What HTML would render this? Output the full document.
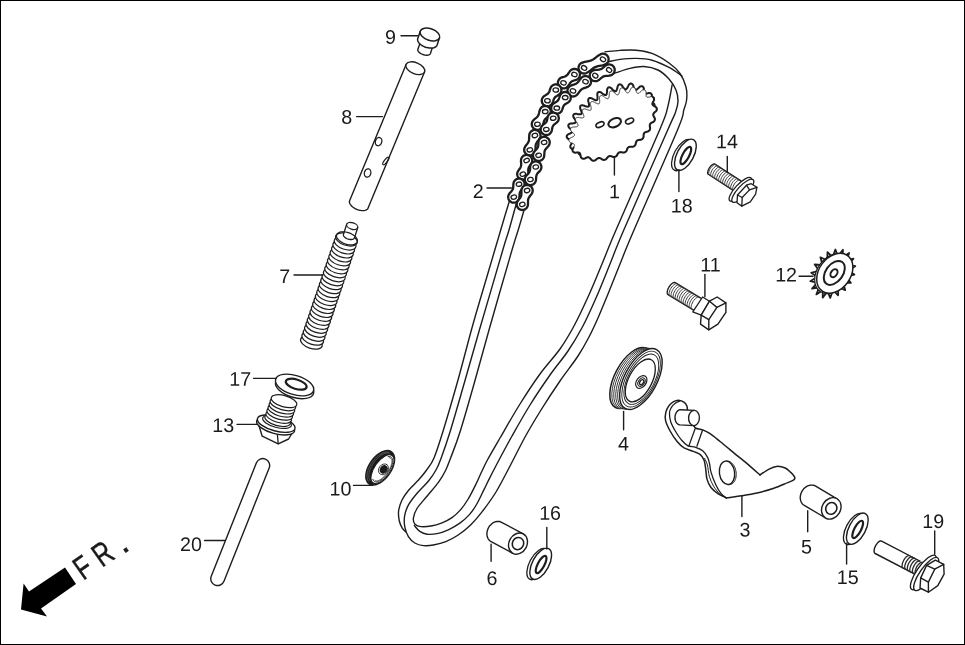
<!DOCTYPE html>
<html lang="en"><head><meta charset="utf-8"><title>Cam chain / tensioner parts diagram</title>
<style>
html,body{margin:0;padding:0;background:#fff}
svg{display:block;filter:grayscale(1)}
text{font-family:"Liberation Sans",sans-serif;fill:#1a1a1a;text-rendering:geometricPrecision}
path,line,ellipse,polyline{stroke-linecap:round;stroke-linejoin:round}
</style></head><body>
<svg width="965" height="645" viewBox="0 0 965 645">
<rect x="0.5" y="0.5" width="964" height="644" fill="#fff" stroke="#000" stroke-width="1"/>
<line x1="262.8" y1="465.4" x2="217.6" y2="578.7" stroke="#1d1d1d" stroke-width="15.1" stroke-linecap="round"/>
<line x1="262.8" y1="465.4" x2="217.6" y2="578.7" stroke="#fff" stroke-width="12.3" stroke-linecap="round"/>
<path d="M21 609.6 L23.6 583.6 L29 591.6 L65 567.4 L76 584 L41 608.6 L47 616.6Z" fill="#000" stroke="none" stroke-width="0" />
<text x="0" y="0" font-size="33" transform="translate(83.2 581.1) rotate(-35) scale(0.74 1)" fill="#111" stroke="#111" stroke-width="0.4">F</text>
<text x="0" y="0" font-size="33" transform="translate(102 568) rotate(-35) scale(0.74 1)" fill="#111" stroke="#111" stroke-width="0.4">R</text>
<text x="0" y="0" font-size="36" transform="translate(123 554.4) rotate(-35) scale(1.0 1)" fill="#111" stroke="#111" stroke-width="0.4">.</text>
<path d="M406.1 64.4 L349.7 200.4 L349.5 201.1 L349.4 201.8 L349.5 202.6 L349.8 203.5 L350.3 204.3 L350.9 205.1 L351.6 206 L352.4 206.8 L353.4 207.5 L354.4 208.2 L355.6 208.8 L356.8 209.4 L358 209.8 L359.2 210.2 L360.5 210.4 L361.7 210.6 L362.8 210.6 L363.9 210.6 L364.9 210.4 L365.8 210.1 L366.6 209.7 L367.3 209.2 L367.8 208.7 L368.1 208 L424.5 72" fill="#fff" stroke="#1d1d1d" stroke-width="1.4" />
<ellipse cx="415.3" cy="68.2" rx="10" ry="5.6" transform="rotate(-157.5 415.3 68.2)" fill="#fff" stroke="#1d1d1d" stroke-width="1.4"/>
<ellipse cx="378.6" cy="141.6" rx="3.2" ry="4.2" transform="rotate(15 378.6 141.6)" fill="none" stroke="#1d1d1d" stroke-width="1.3"/>
<ellipse cx="367.6" cy="173" rx="3.2" ry="4.2" transform="rotate(15 367.6 173)" fill="none" stroke="#1d1d1d" stroke-width="1.3"/>
<ellipse cx="385.8" cy="161" rx="4.6" ry="1.5" transform="rotate(-52 385.8 161)" fill="none" stroke="#1d1d1d" stroke-width="1.2"/>
<path d="M421.1 39.9 L417.9 49.2 L417.8 49.6 L417.8 50.1 L417.9 50.6 L418.2 51.1 L418.5 51.6 L418.9 52.1 L419.5 52.6 L420.1 53.1 L420.7 53.5 L421.4 53.9 L422.2 54.2 L423 54.6 L423.8 54.8 L424.7 55 L425.5 55.1 L426.3 55.2 L427.1 55.2 L427.8 55.1 L428.4 55 L429 54.8 L429.5 54.5 L429.9 54.2 L430.2 53.9 L430.4 53.5 L433.5 44.2" fill="#fff" stroke="#1d1d1d" stroke-width="1.4" />
<path d="M420.3 31.2 L417.8 38.4 L417.6 39.1 L417.6 39.9 L417.8 40.7 L418.1 41.6 L418.6 42.4 L419.3 43.2 L420.1 44 L421 44.8 L422 45.5 L423.1 46.1 L424.3 46.7 L425.6 47.2 L426.8 47.6 L428.1 47.8 L429.4 48 L430.6 48.1 L431.8 48.1 L432.9 47.9 L433.9 47.7 L434.9 47.3 L435.6 46.8 L436.3 46.3 L436.8 45.7 L437.1 45 L439.5 37.8" fill="#fff" stroke="#1d1d1d" stroke-width="1.5" />
<ellipse cx="429.9" cy="34.5" rx="10.2" ry="5.8" transform="rotate(-161.1 429.9 34.5)" fill="#fff" stroke="#1d1d1d" stroke-width="1.5"/>
<ellipse cx="311.4" cy="342.6" rx="11.3" ry="5.8" transform="rotate(-161.2 311.4 342.6)" fill="#fff" stroke="#1d1d1d" stroke-width="1.2"/>
<ellipse cx="312.7" cy="338.6" rx="11.3" ry="5.8" transform="rotate(-161.2 312.7 338.6)" fill="#fff" stroke="#1d1d1d" stroke-width="1.2"/>
<ellipse cx="314.1" cy="334.7" rx="11.3" ry="5.8" transform="rotate(-161.2 314.1 334.7)" fill="#fff" stroke="#1d1d1d" stroke-width="1.2"/>
<ellipse cx="315.4" cy="330.7" rx="11.3" ry="5.8" transform="rotate(-161.2 315.4 330.7)" fill="#fff" stroke="#1d1d1d" stroke-width="1.2"/>
<ellipse cx="316.8" cy="326.7" rx="11.3" ry="5.8" transform="rotate(-161.2 316.8 326.7)" fill="#fff" stroke="#1d1d1d" stroke-width="1.2"/>
<ellipse cx="318.1" cy="322.8" rx="11.3" ry="5.8" transform="rotate(-161.2 318.1 322.8)" fill="#fff" stroke="#1d1d1d" stroke-width="1.2"/>
<ellipse cx="319.5" cy="318.8" rx="11.3" ry="5.8" transform="rotate(-161.2 319.5 318.8)" fill="#fff" stroke="#1d1d1d" stroke-width="1.2"/>
<ellipse cx="320.8" cy="314.8" rx="11.3" ry="5.8" transform="rotate(-161.2 320.8 314.8)" fill="#fff" stroke="#1d1d1d" stroke-width="1.2"/>
<ellipse cx="322.2" cy="310.9" rx="11.3" ry="5.8" transform="rotate(-161.2 322.2 310.9)" fill="#fff" stroke="#1d1d1d" stroke-width="1.2"/>
<ellipse cx="323.5" cy="306.9" rx="11.3" ry="5.8" transform="rotate(-161.2 323.5 306.9)" fill="#fff" stroke="#1d1d1d" stroke-width="1.2"/>
<ellipse cx="324.9" cy="302.9" rx="11.3" ry="5.8" transform="rotate(-161.2 324.9 302.9)" fill="#fff" stroke="#1d1d1d" stroke-width="1.2"/>
<ellipse cx="326.2" cy="299" rx="11.3" ry="5.8" transform="rotate(-161.2 326.2 299)" fill="#fff" stroke="#1d1d1d" stroke-width="1.2"/>
<ellipse cx="327.6" cy="295" rx="11.3" ry="5.8" transform="rotate(-161.2 327.6 295)" fill="#fff" stroke="#1d1d1d" stroke-width="1.2"/>
<ellipse cx="328.9" cy="291.1" rx="11.3" ry="5.8" transform="rotate(-161.2 328.9 291.1)" fill="#fff" stroke="#1d1d1d" stroke-width="1.2"/>
<ellipse cx="330.2" cy="287.1" rx="11.3" ry="5.8" transform="rotate(-161.2 330.2 287.1)" fill="#fff" stroke="#1d1d1d" stroke-width="1.2"/>
<ellipse cx="331.6" cy="283.1" rx="11.3" ry="5.8" transform="rotate(-161.2 331.6 283.1)" fill="#fff" stroke="#1d1d1d" stroke-width="1.2"/>
<ellipse cx="332.9" cy="279.2" rx="11.3" ry="5.8" transform="rotate(-161.2 332.9 279.2)" fill="#fff" stroke="#1d1d1d" stroke-width="1.2"/>
<ellipse cx="334.3" cy="275.2" rx="11.3" ry="5.8" transform="rotate(-161.2 334.3 275.2)" fill="#fff" stroke="#1d1d1d" stroke-width="1.2"/>
<ellipse cx="335.6" cy="271.2" rx="11.3" ry="5.8" transform="rotate(-161.2 335.6 271.2)" fill="#fff" stroke="#1d1d1d" stroke-width="1.2"/>
<ellipse cx="337" cy="267.3" rx="11.3" ry="5.8" transform="rotate(-161.2 337 267.3)" fill="#fff" stroke="#1d1d1d" stroke-width="1.2"/>
<ellipse cx="338.3" cy="263.3" rx="11.3" ry="5.8" transform="rotate(-161.2 338.3 263.3)" fill="#fff" stroke="#1d1d1d" stroke-width="1.2"/>
<ellipse cx="339.7" cy="259.3" rx="11.3" ry="5.8" transform="rotate(-161.2 339.7 259.3)" fill="#fff" stroke="#1d1d1d" stroke-width="1.2"/>
<ellipse cx="341" cy="255.4" rx="11.3" ry="5.8" transform="rotate(-161.2 341 255.4)" fill="#fff" stroke="#1d1d1d" stroke-width="1.2"/>
<ellipse cx="342.4" cy="251.4" rx="11.3" ry="5.8" transform="rotate(-161.2 342.4 251.4)" fill="#fff" stroke="#1d1d1d" stroke-width="1.2"/>
<ellipse cx="343.7" cy="247.4" rx="11.3" ry="5.8" transform="rotate(-161.2 343.7 247.4)" fill="#fff" stroke="#1d1d1d" stroke-width="1.2"/>
<ellipse cx="345.1" cy="243.5" rx="11.3" ry="5.8" transform="rotate(-161.2 345.1 243.5)" fill="#fff" stroke="#1d1d1d" stroke-width="1.2"/>
<ellipse cx="346.4" cy="239.5" rx="11.3" ry="5.8" transform="rotate(-161.2 346.4 239.5)" fill="#fff" stroke="#1d1d1d" stroke-width="1.2"/>
<path d="M346.7 224.2 L343.5 234.2 L343.4 234.6 L343.4 235.1 L343.5 235.5 L343.7 236 L344 236.5 L344.4 236.9 L344.9 237.3 L345.4 237.8 L346 238.1 L346.6 238.5 L347.3 238.8 L348 239 L348.8 239.3 L349.5 239.4 L350.2 239.5 L350.9 239.5 L351.6 239.5 L352.2 239.4 L352.8 239.3 L353.3 239.1 L353.7 238.8 L354.1 238.5 L354.3 238.2 L354.5 237.8 L357.7 227.8" fill="#fff" stroke="#1d1d1d" stroke-width="1.3" />
<ellipse cx="352.2" cy="226" rx="5.8" ry="3.2" transform="rotate(-162.3 352.2 226)" fill="#fff" stroke="#1d1d1d" stroke-width="1.3"/>
<path d="M336.7 234.8 L337.1 234 L337.8 233.3 L338.6 232.7 L339.7 232.2 L341 231.9 L342.4 231.8 L344 231.8 L345.6 232 L347.2 232.3 L348.9 232.8 L350.5 233.4 L352 234.2 L353.3 235 L354.6 235.9 L355.6 236.9 L356.4 237.9 L357 238.9 L357.4 239.9 L357.5 240.9 L357.3 241.8 L356.9 242.6 L356.2 243.3 L355.4 243.9 L354.3 244.4 L353 244.7 L351.6 244.8 L350 244.8 L348.4 244.6 L346.8 244.3 L345.1 243.8 L343.5 243.2 L342 242.4 L340.7 241.6 L339.4 240.7 L338.4 239.7 L337.6 238.7 L337 237.7 L336.6 236.7 L336.5 235.7 L336.7 234.8" fill="none" stroke="#1d1d1d" stroke-width="1.2" />
<path d="M258.5 424 L262.2 436.2 L278.2 443.8 L288.6 439 L294 430" fill="#fff" stroke="#1d1d1d" stroke-width="1.4" />
<line x1="278.2" y1="443.8" x2="277" y2="430" stroke="#1d1d1d" stroke-width="1.3"/>
<ellipse cx="275.6" cy="426" rx="19.6" ry="7.6" transform="rotate(15 275.6 426)" fill="#fff" stroke="#1d1d1d" stroke-width="1.4"/>
<ellipse cx="276.2" cy="423.6" rx="19.4" ry="7.4" transform="rotate(15 276.2 423.6)" fill="#fff" stroke="#1d1d1d" stroke-width="1.4"/>
<ellipse cx="277" cy="421.8" rx="14.8" ry="5.6" transform="rotate(15 277 421.8)" fill="#fff" stroke="#1d1d1d" stroke-width="1.2"/>
<ellipse cx="277.6" cy="420" rx="13.2" ry="5.6" transform="rotate(16 277.6 420)" fill="#fff" stroke="#1d1d1d" stroke-width="1.2"/>
<ellipse cx="278.7" cy="416.9" rx="13.2" ry="5.6" transform="rotate(16 278.7 416.9)" fill="#fff" stroke="#1d1d1d" stroke-width="1.2"/>
<ellipse cx="279.7" cy="413.7" rx="13.2" ry="5.6" transform="rotate(16 279.7 413.7)" fill="#fff" stroke="#1d1d1d" stroke-width="1.2"/>
<ellipse cx="280.8" cy="410.6" rx="13.2" ry="5.6" transform="rotate(16 280.8 410.6)" fill="#fff" stroke="#1d1d1d" stroke-width="1.2"/>
<ellipse cx="281.9" cy="407.5" rx="13.2" ry="5.6" transform="rotate(16 281.9 407.5)" fill="#fff" stroke="#1d1d1d" stroke-width="1.2"/>
<ellipse cx="282.9" cy="404.3" rx="13.2" ry="5.6" transform="rotate(16 282.9 404.3)" fill="#fff" stroke="#1d1d1d" stroke-width="1.2"/>
<ellipse cx="284" cy="401.2" rx="13.2" ry="5.6" transform="rotate(16 284 401.2)" fill="#fff" stroke="#1d1d1d" stroke-width="1.2"/>
<ellipse cx="294.6" cy="387.8" rx="19.8" ry="9.6" transform="rotate(17 294.6 387.8)" fill="#fff" stroke="#1d1d1d" stroke-width="1.4"/>
<ellipse cx="294.6" cy="385" rx="19.8" ry="9.6" transform="rotate(17 294.6 385)" fill="#fff" stroke="#1d1d1d" stroke-width="1.4"/>
<ellipse cx="296.2" cy="384.2" rx="10.8" ry="4.7" transform="rotate(17 296.2 384.2)" fill="#fff" stroke="#1d1d1d" stroke-width="2.2"/>
<ellipse cx="380.2" cy="467.8" rx="19.6" ry="11" transform="rotate(-55 380.2 467.8)" fill="#1a1a1a" stroke="#1d1d1d" stroke-width="1.4"/>
<path d="M368.5 481.4 L368 480.6 L367.6 479.7 L367.3 478.6 L367.1 477.5 L367 476.3 L367.1 475.1 L367.2 473.7 L367.5 472.4 L367.9 470.9 L368.3 469.5 L368.9 468 L369.6 466.6 L370.4 465.1 L371.2 463.7 L372.1 462.3 L373.1 460.9 L374.2 459.7 L375.3 458.4 L376.4 457.3 L377.6 456.3 L378.8 455.3 L380 454.5 L381.2 453.8 L382.4 453.2 L383.6 452.7 L384.7 452.3 L385.8 452.1 L386.9 452.1 L387.9 452.1 L388.8 452.3" fill="none" stroke="#888" stroke-width="0.5" />
<path d="M370.1 480.6 L369.7 479.9 L369.3 479 L369 478.1 L368.9 477 L368.8 475.9 L368.9 474.7 L369 473.5 L369.3 472.2 L369.7 470.9 L370.1 469.5 L370.7 468.1 L371.3 466.7 L372 465.4 L372.8 464 L373.7 462.7 L374.6 461.4 L375.6 460.2 L376.7 459.1 L377.8 458 L378.9 457 L380 456.1 L381.1 455.3 L382.2 454.6 L383.4 454 L384.5 453.6 L385.5 453.3 L386.6 453 L387.6 453 L388.5 453 L389.3 453.2" fill="none" stroke="#888" stroke-width="0.5" />
<ellipse cx="382.5" cy="469.1" rx="16.6" ry="7.9" transform="rotate(-55 382.5 469.1)" fill="#fff" stroke="#1d1d1d" stroke-width="1"/>
<path d="M388.1 456.6 L389.2 456.5 L390.1 456.6 L390.9 456.9 L391.6 457.4 L392.1 458.2 L392.5 459.1 L392.7 460.2 L392.7 461.4 L392.6 462.8 L392.2 464.3 L391.8 465.8 L391.1 467.5 L390.3 469.1 L389.4 470.8 L388.4 472.4 L387.3 474 L386.1 475.5 L384.8 476.8 L383.5 478.1 L382.2 479.2 L380.9 480.1 L379.6 480.9 L378.4 481.4 L377.3 481.8 L376.2 481.9 L375.3 481.8 L374.5 481.5 L373.8 481 L373.3 480.2 L372.9 479.3" fill="none" stroke="#1d1d1d" stroke-width="0.9" />
<path d="M389.3 457.7 L389.9 457.8 L390.5 458.1 L391 458.4 L391.4 459 L391.7 459.6 L391.9 460.4 L391.9 461.3 L391.8 462.3 L391.7 463.4 L391.4 464.6 L391 465.8 L390.5 467.1 L389.9 468.4 L389.2 469.7 L388.4 471 L387.5 472.3 L386.6 473.5 L385.7 474.7 L384.7 475.8 L383.7 476.9 L382.7 477.8 L381.6 478.6 L380.6 479.4 L379.7 479.9 L378.7 480.4 L377.9 480.7 L377.1 480.9 L376.3 480.9 L375.7 480.7 L375.1 480.4" fill="none" stroke="#1d1d1d" stroke-width="0.7" />
<ellipse cx="383.5" cy="469.3" rx="5.8" ry="4.6" transform="rotate(-55 383.5 469.3)" fill="#fff" stroke="#1d1d1d" stroke-width="0.8"/>
<ellipse cx="383.7" cy="469.4" rx="4" ry="3.3" transform="rotate(-55 383.7 469.4)" fill="#1a1a1a" stroke="#1d1d1d" stroke-width="1"/>
<path d="M509.4 201 C507.9 205.8 503.1 221.8 500.7 230 C498.3 238.2 498.1 239 494.8 250 C491.6 261 485.1 282.7 481.2 296 C477.3 309.3 475.3 316 471.4 330 C467.5 344 462.7 363.3 458 380 C453.3 396.7 447.4 417 443.4 430 C439.4 443 436.8 451.3 434 458 C431.2 464.7 429.2 466.3 426.6 470 C424 473.7 421.5 476.7 418.5 480 C415.5 483.3 411.6 486.7 408.8 490 C406.1 493.3 403.7 496.5 402 500 C400.3 503.5 399.1 507.5 398.6 511 C398.2 514.5 398.7 518.1 399.3 521 C399.9 523.9 401.3 526.5 402.4 528.3 C403.5 530.1 405.4 531.4 406 532" fill="none" stroke="#1d1d1d" stroke-width="1.4" />
<path d="M605 51.8 C607.5 51.6 614.8 50.7 620 50.4 C625.2 50.1 630.7 49.7 636 50.2 C641.3 50.7 646.5 51.3 652 53.4 C657.5 55.5 664.3 59.6 669 63 C673.7 66.3 677.2 69.5 680 73.5 C682.8 77.5 684.9 82.6 686 87 C687.1 91.4 687 96.2 686.6 100 C686.2 103.8 685.3 105 683.8 110 C682.3 115 685.8 110 677.5 130 C669.2 150 643.6 207.7 634 230 C624.4 252.3 624.3 253.3 620 264 C615.7 274.7 611.7 285 608 294 C604.3 303 601.2 310.8 598 318 C594.8 325.2 592.3 330.7 589 337 C585.7 343.3 582.8 348.7 578 356 C573.2 363.3 566.2 372 560 381 C553.8 390 546.9 400.5 541 410 C535.1 419.5 529.8 428.3 524.5 438 C519.2 447.7 513.8 459 509 468 C504.2 477 500.5 484.6 496 492 C491.5 499.4 486 506.7 481.8 512.2 C477.6 517.7 474.5 521.2 470.6 525 C466.7 528.8 462.3 532.2 458.2 535 C454.1 537.8 449.9 539.9 445.8 541.6 C441.7 543.3 437.1 544.3 433.4 545 C429.7 545.7 426.6 545.9 423.5 545.6 C420.4 545.3 417.3 544.5 414.8 543 C412.3 541.5 410.1 539.3 408.4 536.6 C406.7 533.9 405.4 530.2 404.8 526.8 C404.2 523.4 404 519.7 404.6 516 C405.2 512.3 406.5 508.5 408.6 504.7 C410.7 500.9 414 496.9 417.3 493 C420.6 489.1 425.4 484.8 428.5 481 C431.6 477.2 433.9 473.8 436 470 C438.1 466.2 438.9 464.3 441.2 458 C443.5 451.7 446.2 444.3 450 432 C453.8 419.7 459.1 401 464 384 C468.9 367 472.9 352.3 479.4 330 C485.9 307.7 497.9 266.7 502.8 250 C507.7 233.3 506.8 237.7 509 230 C511.2 222.3 515 208.3 516.2 204" fill="none" stroke="#1d1d1d" stroke-width="1.4" />
<path d="M614 73.4 C616.7 72.6 625 69.6 630 68.4 C635 67.2 639.3 66.2 644 66.5 C648.7 66.8 653.8 67.9 658 70 C662.2 72.1 666 75.7 669 79 C672 82.3 674.5 86.2 676 90 C677.5 93.8 678.1 97.8 678 101.5 C677.9 105.2 677.3 107.2 675.6 112 C673.9 116.8 676.3 110.3 667.7 130 C659.1 149.7 633.4 207.7 623.8 230 C614.2 252.3 614.6 252.7 610 264 C605.4 275.3 600.6 287.5 596 298 C591.4 308.5 587.1 318.2 582.4 327 C577.7 335.8 573.4 343 568 351 C562.6 359 556.3 366 550 375 C543.7 384 536.3 394.8 530 405 C523.7 415.2 517.2 426.8 512 436 C506.8 445.2 502.7 453.1 499 460 C495.3 466.9 492.5 472.5 490 477.4 C487.5 482.3 486.2 485.2 484 489.6 C481.8 494 479.2 499.8 476.8 504 C474.4 508.2 472.3 511.4 469.4 514.6 C466.5 517.8 463 520.9 459.5 523.4 C456 525.9 452.1 528.1 448.3 529.8 C444.6 531.5 440.5 532.9 437 533.6 C433.5 534.3 430.1 534.6 427.2 534.2 C424.3 533.8 421.9 532.8 419.8 531.4 C417.7 530 415.3 526.6 414.4 525.6" fill="none" stroke="#1d1d1d" stroke-width="1.4" />
<path d="M672.2 84.7 C671.4 88.6 669.6 100.5 667.5 108 C665.4 115.5 668.2 109.7 659.6 130 C651 150.3 625.6 207.7 616 230 C606.4 252.3 606.7 252.8 602 264 C597.3 275.2 592.7 286.7 588 297 C583.3 307.3 578.7 317.3 574 326 C569.3 334.7 565.7 341 560 349 C554.3 357 546.7 364.8 540 374 C533.3 383.2 526.7 393.3 520 404 C513.3 414.7 505.4 428.7 500 438 C494.6 447.3 490.4 454.5 487.4 460 C484.4 465.5 484 466.9 482 471 C480 475.1 477.9 480.2 475.6 484.9 C473.3 489.6 470.7 494.9 468.2 499 C465.7 503.1 463.4 506.5 460.7 509.6 C458 512.7 455.1 515.4 452 517.6 C448.9 519.8 445.5 521.4 442 522.8 C438.5 524.2 434.5 525.4 431 526 C427.5 526.6 423.7 526.9 421 526.6 C418.3 526.3 416.3 525.6 415 524.2 C413.7 522.8 413.1 520.6 413.4 518 C413.7 515.4 414.7 512.2 417 508.5 C419.3 504.8 423.6 500.4 427.2 496 C430.8 491.6 435.3 486.7 438.4 482.4 C441.5 478.1 443.8 474.1 445.8 470 C447.8 465.9 448.2 464.3 450.6 458 C453 451.7 456.1 444.3 460 432 C463.9 419.7 469.2 401 474 384 C478.8 367 482.7 352.3 489 330 C495.3 307.7 507.1 266.7 512 250 C516.9 233.3 516.2 236.6 518.2 230 C520.2 223.4 523 213.8 523.9 210.5" fill="none" stroke="#1d1d1d" stroke-width="1.4" />
<path d="M609 61.6 C610.8 61.2 615.5 59.9 620 59.4 C624.5 58.9 630.7 58.3 636 58.4 C641.3 58.5 646.5 58.7 652 60.2 C657.5 61.7 664 64.8 669 67.4 C674 70 679.8 74.6 682 76" fill="none" stroke="#1d1d1d" stroke-width="1.4" />
<path d="M608.1 57 L607.7 56.2 L607.1 55.5 L606.5 54.9 L605.8 54.4 L605 54.1 L604.1 53.8 L603.2 53.7 L602.4 53.7 L601.5 53.9 L600.7 54.2 L599.4 54.9 L598.1 55.7 L596.9 56.6 L595.7 57.6 L594.5 58.5 L593.2 59.4 L591.9 60.1 L590.5 60.6 L589.1 61 L587.6 61.3 L586.1 61.6 L584.6 61.9 L583.2 62.3 L581.8 62.8 L581 63.2 L580.3 63.8 L579.7 64.4 L579.2 65.1 L578.9 65.9 L578.6 66.8 L578.5 67.7 L578.5 68.5 L578.7 69.4 L579 70.2 L579.4 71 L580 71.7 L580.6 72.3 L581.3 72.8 L582.1 73.1 L583 73.4 L583.9 73.5 L584.7 73.5 L585.6 73.3 L586.4 73 L587.7 72.3 L589 71.5 L590.2 70.6 L591.4 69.6 L592.6 68.7 L593.9 67.8 L595.2 67.1 L596.6 66.6 L598 66.2 L599.5 65.9 L601 65.6 L602.5 65.3 L603.9 64.9 L605.3 64.4 L606.1 64 L606.8 63.4 L607.4 62.8 L607.9 62.1 L608.2 61.3 L608.5 60.4 L608.6 59.5 L608.6 58.7 L608.4 57.8Z" fill="#fff" stroke="#1d1d1d" stroke-width="2.3" />
<ellipse cx="603" cy="59.3" rx="2.8" ry="2.1" transform="rotate(210.5 603 59.3)" fill="#fff" stroke="#1d1d1d" stroke-width="1.3"/>
<ellipse cx="584.1" cy="67.9" rx="2.8" ry="2.1" transform="rotate(210.5 584.1 67.9)" fill="#fff" stroke="#1d1d1d" stroke-width="1.3"/>
<path d="M578.9 71.1 L578.3 70.5 L577.6 69.9 L576.8 69.5 L576 69.1 L575.2 69 L574.3 68.9 L573.4 69 L572.6 69.2 L571.7 69.6 L571 70 L570.3 70.7 L569.6 71.5 L569.1 72.3 L568.5 73.2 L568 74.1 L567.3 74.9 L566.6 75.5 L565.8 76.1 L564.8 76.5 L563.9 76.8 L562.8 77.1 L561.9 77.4 L560.9 77.8 L560.1 78.3 L559.5 78.9 L558.9 79.6 L558.5 80.4 L558.1 81.2 L558 82 L557.9 82.9 L558 83.8 L558.2 84.6 L558.6 85.5 L559 86.2 L559.6 86.8 L560.3 87.4 L561.1 87.8 L561.9 88.2 L562.7 88.3 L563.6 88.4 L564.5 88.3 L565.3 88.1 L566.2 87.7 L566.9 87.3 L567.6 86.6 L568.3 85.8 L568.8 85 L569.4 84.1 L569.9 83.2 L570.6 82.4 L571.3 81.8 L572.1 81.2 L573.1 80.8 L574 80.5 L575.1 80.2 L576 79.9 L577 79.5 L577.8 79 L578.4 78.4 L579 77.7 L579.4 76.9 L579.8 76.1 L579.9 75.3 L580 74.4 L579.9 73.5 L579.7 72.7 L579.3 71.8Z" fill="#fff" stroke="#1d1d1d" stroke-width="2.3" />
<ellipse cx="574.4" cy="74.5" rx="2.8" ry="2.1" transform="rotate(197.7 574.4 74.5)" fill="#fff" stroke="#1d1d1d" stroke-width="1.3"/>
<ellipse cx="563.5" cy="82.8" rx="2.8" ry="2.1" transform="rotate(197.7 563.5 82.8)" fill="#fff" stroke="#1d1d1d" stroke-width="1.3"/>
<path d="M559.3 85.6 L558.5 85.1 L557.7 84.7 L556.9 84.5 L556 84.4 L555.1 84.4 L554.3 84.6 L553.4 84.9 L552.7 85.4 L552 85.9 L551.4 86.5 L550.9 87.4 L550.4 88.3 L550.1 89.2 L549.8 90.2 L549.5 91.2 L549.1 92.1 L548.5 92.9 L547.9 93.7 L547.1 94.3 L546.2 94.8 L545.3 95.4 L544.4 95.9 L543.7 96.5 L543 97.2 L542.5 98 L542.1 98.8 L541.9 99.6 L541.8 100.5 L541.8 101.4 L542 102.2 L542.3 103.1 L542.8 103.8 L543.3 104.5 L543.9 105.1 L544.7 105.6 L545.5 106 L546.3 106.2 L547.2 106.3 L548.1 106.3 L548.9 106.1 L549.8 105.8 L550.5 105.3 L551.2 104.8 L551.8 104.2 L552.3 103.3 L552.8 102.4 L553.1 101.5 L553.4 100.5 L553.7 99.5 L554.1 98.6 L554.7 97.8 L555.3 97 L556.1 96.4 L557 95.9 L557.9 95.3 L558.8 94.8 L559.5 94.2 L560.2 93.5 L560.7 92.7 L561.1 91.9 L561.3 91.1 L561.4 90.2 L561.4 89.3 L561.2 88.5 L560.9 87.6 L560.4 86.9 L559.9 86.2Z" fill="#fff" stroke="#1d1d1d" stroke-width="2.3" />
<ellipse cx="555.8" cy="90" rx="2.8" ry="2.1" transform="rotate(183.1 555.8 90)" fill="#fff" stroke="#1d1d1d" stroke-width="1.3"/>
<ellipse cx="547.4" cy="100.7" rx="2.8" ry="2.1" transform="rotate(183.1 547.4 100.7)" fill="#fff" stroke="#1d1d1d" stroke-width="1.3"/>
<path d="M548.1 106.8 L547.4 106.4 L546.5 106.2 L545.7 106 L544.8 106 L543.9 106.1 L543.1 106.4 L542.3 106.8 L541.6 107.3 L541 107.9 L540.4 108.7 L540 109.6 L539.6 110.6 L539.3 111.7 L539.1 112.8 L538.8 113.9 L538.5 114.9 L538 115.8 L537.4 116.7 L536.6 117.5 L535.8 118.2 L534.9 118.9 L534 119.6 L533.3 120.4 L532.6 121.3 L532.2 122 L532 122.9 L531.8 123.7 L531.8 124.6 L531.9 125.5 L532.2 126.3 L532.6 127.1 L533.1 127.8 L533.7 128.4 L534.5 129 L535.2 129.4 L536.1 129.6 L536.9 129.8 L537.8 129.8 L538.7 129.7 L539.5 129.4 L540.3 129 L541 128.5 L541.6 127.9 L542.2 127.1 L542.6 126.2 L543 125.2 L543.3 124.1 L543.5 123 L543.8 121.9 L544.1 120.9 L544.6 120 L545.2 119.1 L546 118.3 L546.8 117.6 L547.7 116.9 L548.6 116.2 L549.3 115.4 L550 114.5 L550.4 113.8 L550.6 112.9 L550.8 112.1 L550.8 111.2 L550.7 110.3 L550.4 109.5 L550 108.7 L549.5 108 L548.9 107.4Z" fill="#fff" stroke="#1d1d1d" stroke-width="2.3" />
<ellipse cx="545.2" cy="111.6" rx="2.8" ry="2.1" transform="rotate(176.8 545.2 111.6)" fill="#fff" stroke="#1d1d1d" stroke-width="1.3"/>
<ellipse cx="537.4" cy="124.2" rx="2.8" ry="2.1" transform="rotate(176.8 537.4 124.2)" fill="#fff" stroke="#1d1d1d" stroke-width="1.3"/>
<path d="M536.8 130.2 L535.9 130 L535.1 129.9 L534.2 129.9 L533.3 130.1 L532.5 130.4 L531.7 130.9 L531.1 131.4 L530.5 132.1 L530 132.8 L529.6 133.6 L529.3 134.7 L529.2 135.8 L529.2 136.9 L529.1 138.1 L529.1 139.2 L529 140.3 L528.7 141.3 L528.2 142.3 L527.6 143.3 L527 144.2 L526.2 145.1 L525.6 146 L525 146.9 L524.5 147.9 L524.3 148.8 L524.2 149.6 L524.2 150.5 L524.4 151.4 L524.7 152.2 L525.2 153 L525.7 153.6 L526.4 154.2 L527.1 154.7 L527.9 155.1 L528.8 155.3 L529.6 155.4 L530.5 155.4 L531.4 155.2 L532.2 154.9 L533 154.4 L533.6 153.9 L534.2 153.2 L534.7 152.5 L535.1 151.7 L535.4 150.6 L535.5 149.5 L535.5 148.4 L535.6 147.2 L535.6 146.1 L535.7 145 L536 144 L536.5 143 L537.1 142 L537.7 141.1 L538.5 140.2 L539.1 139.3 L539.7 138.4 L540.2 137.4 L540.4 136.5 L540.5 135.7 L540.5 134.8 L540.3 133.9 L540 133.1 L539.5 132.3 L539 131.7 L538.3 131.1 L537.6 130.6Z" fill="#fff" stroke="#1d1d1d" stroke-width="2.3" />
<ellipse cx="534.9" cy="135.5" rx="2.8" ry="2.1" transform="rotate(164.6 534.9 135.5)" fill="#fff" stroke="#1d1d1d" stroke-width="1.3"/>
<ellipse cx="529.8" cy="149.8" rx="2.8" ry="2.1" transform="rotate(164.6 529.8 149.8)" fill="#fff" stroke="#1d1d1d" stroke-width="1.3"/>
<path d="M528.1 155.1 L527.2 154.9 L526.4 154.9 L525.5 155 L524.6 155.3 L523.9 155.6 L523.1 156.1 L522.5 156.7 L521.9 157.4 L521.5 158.2 L521.2 159 L521 160 L521 161 L521 162.1 L521.1 163.2 L521.2 164.2 L521.1 165.3 L520.9 166.3 L520.6 167.2 L520.1 168.1 L519.5 169 L518.9 169.9 L518.3 170.7 L517.8 171.6 L517.4 172.6 L517.2 173.5 L517.2 174.3 L517.3 175.2 L517.6 176.1 L517.9 176.8 L518.4 177.6 L519 178.2 L519.7 178.8 L520.5 179.2 L521.3 179.5 L522.2 179.7 L523 179.7 L523.9 179.6 L524.8 179.3 L525.5 179 L526.3 178.5 L526.9 177.9 L527.5 177.2 L527.9 176.4 L528.2 175.6 L528.4 174.6 L528.4 173.6 L528.4 172.5 L528.3 171.4 L528.2 170.4 L528.3 169.3 L528.5 168.3 L528.8 167.4 L529.3 166.5 L529.9 165.6 L530.5 164.7 L531.1 163.9 L531.6 163 L532 162 L532.2 161.1 L532.2 160.3 L532.1 159.4 L531.8 158.5 L531.5 157.8 L531 157 L530.4 156.4 L529.7 155.8 L528.9 155.4Z" fill="#fff" stroke="#1d1d1d" stroke-width="2.3" />
<ellipse cx="526.6" cy="160.5" rx="2.8" ry="2.1" transform="rotate(160.6 526.6 160.5)" fill="#fff" stroke="#1d1d1d" stroke-width="1.3"/>
<ellipse cx="522.8" cy="174.1" rx="2.8" ry="2.1" transform="rotate(160.6 522.8 174.1)" fill="#fff" stroke="#1d1d1d" stroke-width="1.3"/>
<path d="M521.1 179 L520.3 178.7 L519.4 178.6 L518.5 178.6 L517.6 178.8 L516.8 179 L516 179.5 L515.3 180 L514.7 180.6 L514.2 181.3 L513.8 182.1 L513.5 183.1 L513.4 184.1 L513.3 185.1 L513.3 186.2 L513.2 187.2 L513.1 188.2 L512.8 189.2 L512.3 190.1 L511.7 190.9 L511.1 191.7 L510.3 192.5 L509.6 193.3 L509.1 194.1 L508.6 195 L508.3 195.8 L508.2 196.7 L508.2 197.6 L508.4 198.5 L508.6 199.3 L509.1 200.1 L509.6 200.8 L510.2 201.4 L510.9 201.9 L511.7 202.3 L512.5 202.6 L513.4 202.7 L514.3 202.7 L515.2 202.5 L516 202.3 L516.8 201.8 L517.5 201.3 L518.1 200.7 L518.6 200 L519 199.2 L519.3 198.2 L519.4 197.2 L519.5 196.2 L519.5 195.1 L519.6 194.1 L519.7 193.1 L520 192.1 L520.5 191.2 L521.1 190.4 L521.7 189.6 L522.5 188.8 L523.2 188 L523.7 187.2 L524.2 186.3 L524.5 185.5 L524.6 184.6 L524.6 183.7 L524.4 182.8 L524.2 182 L523.7 181.2 L523.2 180.5 L522.6 179.9 L521.9 179.4Z" fill="#fff" stroke="#1d1d1d" stroke-width="2.3" />
<ellipse cx="519" cy="184.2" rx="2.8" ry="2.1" transform="rotate(167 519 184.2)" fill="#fff" stroke="#1d1d1d" stroke-width="1.3"/>
<ellipse cx="513.8" cy="197.1" rx="2.8" ry="2.1" transform="rotate(167 513.8 197.1)" fill="#fff" stroke="#1d1d1d" stroke-width="1.3"/>
<path d="M614.3 67.9 L613.9 67.1 L613.4 66.4 L612.8 65.8 L612.1 65.2 L611.3 64.8 L610.4 64.6 L609.6 64.4 L608.7 64.4 L607.8 64.5 L607 64.8 L606 65.3 L605.1 65.9 L604.3 66.6 L603.4 67.4 L602.6 68.1 L601.7 68.7 L600.7 69.2 L599.7 69.5 L598.6 69.7 L597.5 69.8 L596.4 69.8 L595.3 69.9 L594.2 70.1 L593.2 70.4 L592.4 70.8 L591.7 71.3 L591.1 71.9 L590.5 72.6 L590.1 73.4 L589.9 74.3 L589.7 75.1 L589.7 76 L589.8 76.9 L590.1 77.7 L590.5 78.5 L591 79.2 L591.6 79.8 L592.3 80.4 L593.1 80.8 L594 81 L594.8 81.2 L595.7 81.2 L596.6 81.1 L597.4 80.8 L598.4 80.3 L599.3 79.7 L600.1 79 L601 78.2 L601.8 77.5 L602.7 76.9 L603.7 76.4 L604.7 76.1 L605.8 75.9 L606.9 75.8 L608 75.8 L609.1 75.7 L610.2 75.5 L611.2 75.2 L612 74.8 L612.7 74.3 L613.3 73.7 L613.9 73 L614.3 72.2 L614.5 71.3 L614.7 70.5 L614.7 69.6 L614.6 68.7Z" fill="#fff" stroke="#1d1d1d" stroke-width="2.3" />
<ellipse cx="609.1" cy="70" rx="2.8" ry="2.1" transform="rotate(212.9 609.1 70)" fill="#fff" stroke="#1d1d1d" stroke-width="1.3"/>
<ellipse cx="595.3" cy="75.6" rx="2.8" ry="2.1" transform="rotate(212.9 595.3 75.6)" fill="#fff" stroke="#1d1d1d" stroke-width="1.3"/>
<path d="M590 78.3 L589.4 77.6 L588.7 77 L588 76.6 L587.2 76.3 L586.3 76.1 L585.4 76 L584.6 76.1 L583.7 76.3 L582.9 76.6 L582.2 77.1 L581.3 77.8 L580.6 78.7 L579.9 79.6 L579.2 80.6 L578.5 81.5 L577.8 82.4 L576.9 83.1 L576 83.7 L574.9 84.2 L573.8 84.6 L572.7 84.9 L571.6 85.3 L570.6 85.8 L569.7 86.4 L569 87 L568.4 87.7 L568 88.4 L567.7 89.2 L567.5 90.1 L567.4 91 L567.5 91.8 L567.7 92.7 L568 93.5 L568.5 94.2 L569.1 94.9 L569.8 95.5 L570.5 95.9 L571.3 96.2 L572.2 96.4 L573.1 96.5 L573.9 96.4 L574.8 96.2 L575.6 95.9 L576.3 95.4 L577.2 94.7 L577.9 93.8 L578.6 92.9 L579.3 91.9 L580 91 L580.7 90.1 L581.6 89.4 L582.5 88.8 L583.6 88.3 L584.7 87.9 L585.8 87.6 L586.9 87.2 L587.9 86.7 L588.8 86.1 L589.5 85.5 L590.1 84.8 L590.5 84.1 L590.8 83.3 L591 82.4 L591.1 81.5 L591 80.7 L590.8 79.8 L590.5 79Z" fill="#fff" stroke="#1d1d1d" stroke-width="2.3" />
<ellipse cx="585.5" cy="81.6" rx="2.8" ry="2.1" transform="rotate(198.4 585.5 81.6)" fill="#fff" stroke="#1d1d1d" stroke-width="1.3"/>
<ellipse cx="573" cy="90.9" rx="2.8" ry="2.1" transform="rotate(198.4 573 90.9)" fill="#fff" stroke="#1d1d1d" stroke-width="1.3"/>
<path d="M568.7 93.2 L568 92.7 L567.2 92.4 L566.3 92.1 L565.5 92 L564.6 92 L563.7 92.2 L562.9 92.5 L562.1 92.9 L561.4 93.5 L560.8 94.1 L560.3 94.9 L559.9 95.8 L559.5 96.8 L559.2 97.8 L558.9 98.7 L558.5 99.6 L558 100.4 L557.3 101.1 L556.5 101.7 L555.6 102.3 L554.7 102.8 L553.9 103.3 L553.1 103.9 L552.4 104.6 L551.9 105.3 L551.6 106.1 L551.3 107 L551.2 107.8 L551.2 108.7 L551.4 109.6 L551.7 110.4 L552.1 111.2 L552.7 111.9 L553.3 112.5 L554 113 L554.8 113.3 L555.7 113.6 L556.5 113.7 L557.4 113.7 L558.3 113.5 L559.1 113.2 L559.9 112.8 L560.6 112.2 L561.2 111.6 L561.7 110.8 L562.1 109.9 L562.5 108.9 L562.8 107.9 L563.1 107 L563.5 106.1 L564 105.3 L564.7 104.6 L565.5 104 L566.4 103.4 L567.3 102.9 L568.1 102.4 L568.9 101.8 L569.6 101.1 L570.1 100.4 L570.4 99.6 L570.7 98.7 L570.8 97.9 L570.8 97 L570.6 96.1 L570.3 95.3 L569.9 94.5 L569.3 93.8Z" fill="#fff" stroke="#1d1d1d" stroke-width="2.3" />
<ellipse cx="565.2" cy="97.6" rx="2.8" ry="2.1" transform="rotate(183.7 565.2 97.6)" fill="#fff" stroke="#1d1d1d" stroke-width="1.3"/>
<ellipse cx="556.8" cy="108.1" rx="2.8" ry="2.1" transform="rotate(183.7 556.8 108.1)" fill="#fff" stroke="#1d1d1d" stroke-width="1.3"/>
<path d="M556.1 113.4 L555.4 113 L554.5 112.8 L553.7 112.6 L552.8 112.6 L551.9 112.8 L551.1 113 L550.3 113.4 L549.6 113.9 L549 114.6 L548.4 115.3 L548 116.1 L547.7 117 L547.5 118 L547.3 119 L547.1 120 L546.9 120.9 L546.4 121.8 L545.9 122.5 L545.2 123.2 L544.4 123.8 L543.6 124.4 L542.8 125 L542.1 125.7 L541.5 126.5 L541.1 127.2 L540.9 128.1 L540.7 128.9 L540.7 129.8 L540.9 130.7 L541.1 131.5 L541.5 132.3 L542 133 L542.7 133.6 L543.4 134.2 L544.1 134.6 L545 134.8 L545.8 135 L546.7 135 L547.6 134.8 L548.4 134.6 L549.2 134.2 L549.9 133.7 L550.5 133 L551.1 132.3 L551.5 131.5 L551.8 130.6 L552 129.6 L552.2 128.6 L552.4 127.6 L552.6 126.7 L553.1 125.8 L553.6 125.1 L554.3 124.4 L555.1 123.8 L555.9 123.2 L556.7 122.6 L557.4 121.9 L558 121.1 L558.4 120.4 L558.6 119.5 L558.8 118.7 L558.8 117.8 L558.6 116.9 L558.4 116.1 L558 115.3 L557.5 114.6 L556.8 114Z" fill="#fff" stroke="#1d1d1d" stroke-width="2.3" />
<ellipse cx="553.2" cy="118.2" rx="2.8" ry="2.1" transform="rotate(176.6 553.2 118.2)" fill="#fff" stroke="#1d1d1d" stroke-width="1.3"/>
<ellipse cx="546.3" cy="129.4" rx="2.8" ry="2.1" transform="rotate(176.6 546.3 129.4)" fill="#fff" stroke="#1d1d1d" stroke-width="1.3"/>
<path d="M546.3 137.2 L545.5 137 L544.6 136.8 L543.7 136.8 L542.8 136.9 L542 137.2 L541.2 137.6 L540.5 138.1 L539.9 138.7 L539.4 139.4 L538.9 140.2 L538.6 141.2 L538.5 142.2 L538.4 143.2 L538.3 144.3 L538.3 145.4 L538.1 146.4 L537.8 147.3 L537.3 148.2 L536.7 149 L536 149.8 L535.2 150.6 L534.5 151.4 L533.9 152.2 L533.4 153.1 L533.2 153.9 L533 154.8 L533 155.7 L533.1 156.6 L533.4 157.4 L533.8 158.2 L534.3 158.9 L534.9 159.5 L535.6 160 L536.4 160.5 L537.2 160.7 L538.1 160.9 L539 160.9 L539.9 160.8 L540.7 160.5 L541.5 160.1 L542.2 159.6 L542.8 159 L543.3 158.3 L543.8 157.5 L544.1 156.5 L544.2 155.5 L544.3 154.5 L544.4 153.4 L544.4 152.3 L544.6 151.3 L544.9 150.4 L545.4 149.5 L546 148.7 L546.7 147.9 L547.5 147.1 L548.2 146.3 L548.8 145.5 L549.3 144.6 L549.5 143.8 L549.7 142.9 L549.7 142 L549.6 141.1 L549.3 140.3 L548.9 139.5 L548.4 138.8 L547.8 138.2 L547.1 137.7Z" fill="#fff" stroke="#1d1d1d" stroke-width="2.3" />
<ellipse cx="544.1" cy="142.4" rx="2.8" ry="2.1" transform="rotate(168.1 544.1 142.4)" fill="#fff" stroke="#1d1d1d" stroke-width="1.3"/>
<ellipse cx="538.6" cy="155.3" rx="2.8" ry="2.1" transform="rotate(168.1 538.6 155.3)" fill="#fff" stroke="#1d1d1d" stroke-width="1.3"/>
<path d="M538 161.9 L537.2 161.6 L536.3 161.4 L535.4 161.4 L534.6 161.5 L533.7 161.8 L532.9 162.2 L532.2 162.7 L531.6 163.3 L531.1 164 L530.7 164.8 L530.4 165.7 L530.2 166.7 L530.1 167.7 L530.1 168.8 L530 169.8 L529.8 170.8 L529.5 171.7 L529.1 172.6 L528.5 173.4 L527.8 174.1 L527 174.9 L526.3 175.6 L525.7 176.4 L525.3 177.3 L525 178.1 L524.8 179 L524.8 179.9 L524.9 180.7 L525.2 181.6 L525.6 182.4 L526.1 183.1 L526.7 183.7 L527.4 184.2 L528.2 184.6 L529 184.9 L529.9 185.1 L530.8 185.1 L531.6 185 L532.5 184.7 L533.3 184.3 L534 183.8 L534.6 183.2 L535.1 182.5 L535.5 181.7 L535.8 180.8 L536 179.8 L536.1 178.8 L536.1 177.7 L536.2 176.7 L536.4 175.7 L536.7 174.8 L537.1 173.9 L537.7 173.1 L538.4 172.4 L539.2 171.6 L539.9 170.9 L540.5 170.1 L540.9 169.2 L541.2 168.4 L541.4 167.5 L541.4 166.6 L541.3 165.8 L541 164.9 L540.6 164.1 L540.1 163.4 L539.5 162.8 L538.8 162.3Z" fill="#fff" stroke="#1d1d1d" stroke-width="2.3" />
<ellipse cx="535.8" cy="167" rx="2.8" ry="2.1" transform="rotate(168.4 535.8 167)" fill="#fff" stroke="#1d1d1d" stroke-width="1.3"/>
<ellipse cx="530.4" cy="179.5" rx="2.8" ry="2.1" transform="rotate(168.4 530.4 179.5)" fill="#fff" stroke="#1d1d1d" stroke-width="1.3"/>
<path d="M528.9 185.2 L528.1 185 L527.2 184.9 L526.3 185 L525.5 185.1 L524.6 185.5 L523.9 185.9 L523.2 186.5 L522.6 187.1 L522.2 187.9 L521.8 188.7 L521.5 189.7 L521.4 190.8 L521.4 191.9 L521.4 193 L521.4 194.1 L521.3 195.2 L521 196.2 L520.6 197.1 L520 198.1 L519.4 198.9 L518.7 199.8 L518 200.7 L517.4 201.6 L517 202.6 L516.8 203.4 L516.7 204.3 L516.8 205.2 L516.9 206 L517.3 206.9 L517.7 207.6 L518.3 208.3 L518.9 208.9 L519.7 209.3 L520.5 209.7 L521.3 209.9 L522.2 210 L523.1 209.9 L523.9 209.8 L524.8 209.4 L525.5 209 L526.2 208.4 L526.8 207.8 L527.2 207 L527.6 206.2 L527.9 205.2 L528 204.1 L528 203 L528 201.9 L528 200.8 L528.1 199.7 L528.4 198.7 L528.8 197.8 L529.4 196.8 L530 196 L530.7 195.1 L531.4 194.2 L532 193.3 L532.4 192.3 L532.6 191.5 L532.7 190.6 L532.6 189.7 L532.5 188.9 L532.1 188 L531.7 187.3 L531.1 186.6 L530.5 186 L529.7 185.6Z" fill="#fff" stroke="#1d1d1d" stroke-width="2.3" />
<ellipse cx="527.1" cy="190.5" rx="2.8" ry="2.1" transform="rotate(164.1 527.1 190.5)" fill="#fff" stroke="#1d1d1d" stroke-width="1.3"/>
<ellipse cx="522.3" cy="204.4" rx="2.8" ry="2.1" transform="rotate(164.1 522.3 204.4)" fill="#fff" stroke="#1d1d1d" stroke-width="1.3"/>
<path d="M651.7 94.7 L651.8 94.8 L651.8 95 L651.8 95.1 L651.9 95.3 L651.9 95.4 L651.9 95.6 L651.9 95.8 L651.8 95.9 L651.8 96.1 L651.8 96.3 L651.8 96.4 L651.7 96.6 L651.7 96.8 L651.6 97 L651.5 97.2 L651.4 97.3 L651.3 97.6 L651.1 97.8 L651 98 L650.9 98.1 L650.8 98.3 L650.8 98.5 L650.7 98.6 L650.6 98.8 L650.5 99 L650.5 99.1 L650.4 99.3 L650.4 99.4 L650.3 99.6 L650.3 99.7 L650.3 99.8 L650.2 100 L650.2 100.1 L650.2 100.2 L650.2 100.3 L650.2 100.5 L650.2 100.6 L650.2 100.7 L650.3 100.8 L650.3 100.9 L650.4 101 L650.4 101.1 L650.5 101.2 L650.6 101.3 L650.7 101.4 L650.8 101.5 L650.9 101.6 L651 101.7 L651.1 101.8 L651.2 101.9 L651.3 102 L651.5 102.1 L651.6 102.2 L651.7 102.3 L651.9 102.3 L652 102.4 L652.2 102.5 L652.3 102.7 L652.5 102.8 L652.7 102.9 L652.9 102.9 L653.1 103.1 L653.3 103.2 L653.5 103.3 L653.6 103.4 L653.7 103.5 L653.9 103.6 L654 103.8 L654.1 103.9 L654.2 104 L654.2 104.2 L654.3 104.3 L654.4 104.4 L654.4 104.6 L654.5 104.7 L654.5 104.9 L654.6 105 L654.6 105.1 L654.6 105.3 L654.6 105.4 L654.6 105.6 L654.6 105.7 L654.6 105.9 L654.6 106 L654.5 106.2 L654.5 106.3 L654.5 106.5 L654.4 106.6 L654.3 106.7 L654.3 106.9 L654.2 107 L654.1 107.2 L654 107.3 L653.9 107.5 L653.8 107.6 L653.7 107.7 L653.5 107.9 L653.4 108 L653.2 108.1 L653 108.3 L652.8 108.4 L652.7 108.5 L652.5 108.7 L652.4 108.8 L652.2 108.9 L652.1 109 L652 109.2 L651.9 109.3 L651.8 109.4 L651.7 109.5 L651.6 109.7 L651.5 109.8 L651.4 109.9 L651.3 110 L651.2 110.2 L651.2 110.3 L651.1 110.4 L651.1 110.6 L651.1 110.7 L651.1 110.9 L651.1 111 L651.1 111.1 L651.1 111.3 L651.1 111.4 L651.1 111.6 L651.2 111.7 L651.2 111.9 L651.3 112.1 L651.3 112.2 L651.4 112.4 L651.5 112.6 L651.5 112.7 L651.6 112.9 L651.7 113.1 L651.8 113.3 L651.9 113.4 L652 113.6 L652.2 113.8 L652.3 114 L652.4 114.2 L652.5 114.4 L652.5 114.6 L652.6 114.8 L652.6 114.9 L652.6 115.1 L652.7 115.3 L652.7 115.5 L652.7 115.6 L652.7 115.8 L652.7 116 L652.6 116.1 L652.6 116.3 L652.6 116.5 L652.5 116.6 L652.4 116.8 L652.4 116.9 L652.3 117.1 L652.2 117.2 L652.1 117.4 L652 117.5 L651.9 117.6 L651.8 117.8 L651.7 117.9 L651.5 118 L651.4 118.1 L651.2 118.3 L651.1 118.4 L650.9 118.5 L650.7 118.6 L650.5 118.7 L650.2 118.7 L650 118.8 L649.8 118.9 L649.6 119 L649.5 119.1 L649.3 119.2 L649.1 119.3 L648.9 119.4 L648.8 119.5 L648.6 119.6 L648.5 119.7 L648.4 119.9 L648.2 120 L648.1 120.1 L648 120.2 L647.9 120.4 L647.8 120.5 L647.8 120.7 L647.7 120.8 L647.7 121 L647.6 121.2 L647.6 121.3 L647.6 121.5 L647.6 121.7 L647.6 121.9 L647.6 122.1 L647.6 122.3 L647.6 122.5 L647.6 122.7 L647.6 122.9 L647.7 123.1 L647.7 123.3 L647.7 123.6 L647.8 123.8 L647.9 124.1 L647.9 124.3 L647.9 124.5 L647.9 124.7 L647.9 124.9 L647.9 125.1 L647.9 125.3 L647.8 125.5 L647.8 125.7 L647.7 125.9 L647.6 126 L647.5 126.2 L647.5 126.4 L647.4 126.5 L647.3 126.7 L647.1 126.8 L647 127 L646.9 127.1 L646.7 127.2 L646.6 127.3 L646.4 127.5 L646.3 127.6 L646.1 127.7 L645.9 127.8 L645.7 127.9 L645.5 127.9 L645.3 128 L645.1 128.1 L644.8 128.1 L644.5 128.1 L644.3 128.2 L644.1 128.3 L643.9 128.3 L643.7 128.4 L643.5 128.5 L643.3 128.6 L643.1 128.7 L642.9 128.8 L642.7 128.9 L642.6 129 L642.4 129.1 L642.3 129.2 L642.2 129.3 L642.1 129.5 L641.9 129.6 L641.9 129.8 L641.8 130 L641.7 130.1 L641.6 130.3 L641.6 130.5 L641.5 130.7 L641.5 130.9 L641.4 131.2 L641.4 131.4 L641.4 131.6 L641.4 131.8 L641.3 132.1 L641.3 132.3 L641.4 132.6 L641.4 132.9 L641.4 133.1 L641.3 133.3 L641.3 133.5 L641.2 133.7 L641.1 133.9 L641 134.1 L641 134.3 L640.9 134.5 L640.7 134.7 L640.6 134.8 L640.5 135 L640.4 135.1 L640.2 135.3 L640.1 135.4 L639.9 135.5 L639.8 135.6 L639.6 135.7 L639.4 135.8 L639.2 135.9 L639 136 L638.8 136.1 L638.6 136.1 L638.4 136.2 L638.1 136.2 L637.9 136.3 L637.5 136.2 L637.3 136.2 L637.1 136.3 L636.8 136.3 L636.6 136.4 L636.4 136.4 L636.2 136.5 L635.9 136.5 L635.7 136.6 L635.5 136.7 L635.4 136.7 L635.2 136.8 L635 136.9 L634.9 137.1 L634.7 137.2 L634.6 137.3 L634.5 137.5 L634.3 137.6 L634.2 137.8 L634.1 138 L634 138.2 L634 138.4 L633.9 138.6 L633.8 138.8 L633.7 139.1 L633.7 139.3 L633.6 139.5 L633.5 139.8 L633.6 140.1 L633.5 140.4 L633.4 140.6 L633.4 140.8 L633.3 141 L633.2 141.2 L633.1 141.4 L632.9 141.6 L632.8 141.8 L632.7 141.9 L632.5 142.1 L632.4 142.2 L632.2 142.4 L632.1 142.5 L631.9 142.6 L631.7 142.7 L631.6 142.8 L631.4 142.9 L631.2 143 L631 143 L630.8 143.1 L630.5 143.2 L630.3 143.2 L630.1 143.2 L629.8 143.2 L629.6 143.2 L629.3 143.1 L629 143.1 L628.8 143.1 L628.5 143.1 L628.3 143.1 L628 143.1 L627.8 143.2 L627.6 143.2 L627.4 143.2 L627.2 143.3 L627 143.3 L626.8 143.4 L626.6 143.5 L626.4 143.6 L626.2 143.7 L626.1 143.8 L625.9 144 L625.8 144.1 L625.7 144.3 L625.5 144.4 L625.4 144.6 L625.3 144.8 L625.2 145 L625.1 145.2 L625 145.5 L624.9 145.7 L624.8 145.9 L624.7 146.2 L624.7 146.5 L624.6 146.7 L624.5 146.9 L624.4 147.1 L624.2 147.3 L624.1 147.5 L624 147.7 L623.8 147.8 L623.7 148 L623.5 148.1 L623.3 148.2 L623.2 148.4 L623 148.5 L622.8 148.6 L622.6 148.7 L622.4 148.7 L622.2 148.8 L622 148.9 L621.8 148.9 L621.6 148.9 L621.4 149 L621.2 149 L620.9 149 L620.7 149 L620.5 148.9 L620.2 148.9 L619.9 148.7 L619.7 148.7 L619.4 148.7 L619.2 148.6 L619 148.6 L618.7 148.6 L618.5 148.6 L618.3 148.6 L618.1 148.6 L617.9 148.6 L617.7 148.6 L617.5 148.7 L617.3 148.7 L617.1 148.8 L616.9 148.9 L616.7 149 L616.6 149.1 L616.4 149.2 L616.3 149.4 L616.1 149.5 L616 149.7 L615.8 149.9 L615.7 150.1 L615.6 150.2 L615.4 150.4 L615.3 150.6 L615.2 150.8 L615.1 151.1 L615 151.4 L614.9 151.6 L614.7 151.8 L614.6 152 L614.5 152.2 L614.3 152.3 L614.1 152.5 L614 152.6 L613.8 152.7 L613.7 152.8 L613.5 152.9 L613.3 153 L613.1 153.1 L612.9 153.2 L612.7 153.3 L612.6 153.3 L612.4 153.3 L612.2 153.4 L612 153.4 L611.7 153.4 L611.5 153.4 L611.3 153.4 L611.1 153.4 L610.9 153.3 L610.7 153.3 L610.4 153.2 L610.2 153.1 L609.9 152.9 L609.7 152.8 L609.5 152.8 L609.3 152.7 L609 152.7 L608.8 152.6 L608.6 152.6 L608.4 152.5 L608.2 152.5 L608 152.5 L607.8 152.5 L607.6 152.5 L607.4 152.5 L607.2 152.5 L607.1 152.6 L606.9 152.6 L606.7 152.7 L606.5 152.8 L606.4 152.9 L606.2 153 L606.1 153.1 L605.9 153.2 L605.7 153.4 L605.6 153.5 L605.4 153.7 L605.3 153.9 L605.1 154 L605 154.2 L604.8 154.4 L604.7 154.6 L604.6 154.9 L604.4 155 L604.3 155.2 L604.1 155.3 L604 155.5 L603.8 155.6 L603.6 155.7 L603.5 155.8 L603.3 155.9 L603.1 156 L602.9 156.1 L602.8 156.1 L602.6 156.2 L602.4 156.2 L602.2 156.2 L602 156.3 L601.8 156.3 L601.7 156.3 L601.5 156.3 L601.3 156.2 L601.1 156.2 L600.9 156.2 L600.7 156.1 L600.5 156.1 L600.3 156 L600.1 155.9 L599.9 155.8 L599.7 155.7 L599.5 155.5 L599.3 155.3 L599.1 155.2 L598.9 155.1 L598.7 155 L598.6 154.9 L598.4 154.8 L598.2 154.7 L598 154.7 L597.8 154.6 L597.7 154.5 L597.5 154.5 L597.3 154.4 L597.1 154.4 L597 154.4 L596.8 154.4 L596.6 154.4 L596.5 154.4 L596.3 154.5 L596.1 154.5 L596 154.6 L595.8 154.6 L595.6 154.7 L595.5 154.8 L595.3 154.9 L595.2 155 L595 155.1 L594.8 155.2 L594.7 155.3 L594.5 155.5 L594.3 155.6 L594.2 155.7 L594 155.9 L593.9 156.1 L593.7 156.3 L593.5 156.4 L593.4 156.5 L593.2 156.6 L593 156.7 L592.8 156.8 L592.7 156.9 L592.5 156.9 L592.3 157 L592.2 157 L592 157.1 L591.8 157.1 L591.7 157.1 L591.5 157.1 L591.3 157.1 L591.2 157.1 L591 157.1 L590.8 157.1 L590.7 157 L590.5 157 L590.3 156.9 L590.2 156.9 L590 156.8 L589.9 156.7 L589.7 156.6 L589.6 156.5 L589.4 156.4 L589.3 156.3 L589.1 156.2 L589 156 L588.8 155.9 L588.7 155.6 L588.6 155.4 L588.4 155.3 L588.3 155.1 L588.2 155 L588 154.9 L587.9 154.7 L587.8 154.6 L587.6 154.5 L587.5 154.4 L587.4 154.2 L587.2 154.1 L587.1 154.1 L587 154 L586.8 153.9 L586.7 153.8 L586.6 153.8 L586.4 153.7 L586.3 153.7 L586.2 153.6 L586 153.6 L585.9 153.6 L585.7 153.6 L585.6 153.6 L585.4 153.7 L585.3 153.7 L585.1 153.7 L585 153.8 L584.8 153.8 L584.7 153.9 L584.5 153.9 L584.3 154 L584.2 154.1 L584 154.1 L583.8 154.2 L583.6 154.3 L583.5 154.4 L583.3 154.5 L583.1 154.7 L582.9 154.8 L582.7 154.9 L582.5 154.9 L582.4 155 L582.2 155 L582 155.1 L581.8 155.1 L581.7 155.1 L581.5 155.1 L581.4 155.1 L581.2 155.1 L581.1 155.1 L580.9 155.1 L580.7 155.1 L580.6 155 L580.5 155 L580.3 155 L580.2 154.9 L580 154.8 L579.9 154.8 L579.8 154.7 L579.7 154.6 L579.5 154.5 L579.4 154.4 L579.3 154.3 L579.2 154.2 L579.1 154.1 L579 154 L578.9 153.9 L578.8 153.7 L578.7 153.6 L578.7 153.4 L578.6 153.3 L578.5 153.1 L578.5 152.9 L578.4 152.7 L578.4 152.5 L578.4 152.2 L578.4 152 L578.3 151.9 L578.3 151.7 L578.2 151.5 L578.2 151.3 L578.2 151.2 L578.1 151 L578.1 150.8 L578 150.7 L578 150.5 L577.9 150.4 L577.9 150.2 L577.8 150.1 L577.8 150 L577.7 149.9 L577.6 149.7 L577.6 149.6 L577.5 149.5 L577.4 149.5 L577.3 149.4 L577.3 149.3 L577.2 149.2 L577.1 149.2 L577 149.1 L576.9 149.1 L576.7 149 L576.6 149 L576.5 148.9 L576.4 148.9 L576.2 148.9 L576.1 148.9 L575.9 148.9 L575.8 148.9 L575.6 148.9 L575.4 148.9 L575.3 148.9 L575.1 148.9 L574.9 148.9 L574.7 148.9 L574.6 148.9 L574.4 148.9 L574.2 148.9 L573.9 149 L573.7 149.1 L573.4 149.1 L573.3 149.1 L573.1 149.1 L572.9 149 L572.7 149 L572.5 149 L572.4 149 L572.2 148.9 L572.1 148.9 L571.9 148.8 L571.8 148.7 L571.6 148.7 L571.5 148.6 L571.4 148.5 L571.3 148.4 L571.2 148.4 L571.1 148.3 L571 148.2 L570.9 148.1 L570.8 147.9 L570.7 147.8 L570.6 147.7 L570.6 147.6 L570.5 147.5 L570.4 147.3 L570.4 147.2 L570.4 147.1 L570.3 146.9 L570.3 146.8 L570.3 146.6 L570.3 146.5 L570.3 146.3 L570.3 146.1 L570.4 146 L570.4 145.8 L570.4 145.6 L570.5 145.4 L570.6 145.3 L570.7 145.1 L570.8 144.9 L570.9 144.7 L571.1 144.4 L571.2 144.2 L571.3 144 L571.4 143.9 L571.5 143.7 L571.6 143.5 L571.7 143.4 L571.8 143.2 L571.9 143 L571.9 142.9 L572 142.7 L572.1 142.6 L572.2 142.4 L572.2 142.3 L572.3 142.1 L572.3 142 L572.3 141.9 L572.4 141.7 L572.4 141.6 L572.4 141.5 L572.4 141.4 L572.3 141.3 L572.3 141.2 L572.3 141.1 L572.2 141 L572.2 140.9 L572.1 140.8 L572 140.7 L571.9 140.6 L571.8 140.5 L571.7 140.4 L571.5 140.3 L571.4 140.2 L571.2 140.2 L571.1 140.1 L570.9 140 L570.7 139.9 L570.5 139.8 L570.4 139.7 L570.2 139.6 L570 139.5 L569.8 139.4 L569.6 139.3 L569.2 139.3 L568.9 139.2 L568.6 139.1 L568.4 139 L568.2 138.9 L568.1 138.7 L567.9 138.6 L567.7 138.5 L567.6 138.4 L567.5 138.2 L567.3 138.1 L567.2 138 L567.1 137.8 L567 137.7 L566.9 137.5 L566.9 137.4 L566.8 137.2 L566.8 137.1 L566.7 137 L566.7 136.8 L566.7 136.7 L566.7 136.5 L566.7 136.3 L566.7 136.2 L566.8 136 L566.8 135.9 L566.9 135.7 L567 135.6 L567 135.4 L567.1 135.3 L567.3 135.1 L567.4 135 L567.5 134.9 L567.7 134.7 L567.9 134.6 L568 134.4 L568.3 134.3 L568.5 134.2 L568.8 134 L569.1 133.9 L569.5 133.8 L569.7 133.7 L569.9 133.6 L570.1 133.5 L570.4 133.3 L570.6 133.2 L570.8 133.1 L571 133 L571.2 132.9 L571.4 132.8 L571.5 132.7 L571.7 132.5 L571.8 132.4 L571.9 132.3 L572 132.2 L572.1 132.1 L572.2 131.9 L572.3 131.8 L572.3 131.7 L572.3 131.6 L572.3 131.4 L572.3 131.3 L572.3 131.1 L572.2 131 L572.1 130.8 L572 130.7 L571.9 130.5 L571.8 130.3 L571.7 130.2 L571.5 130 L571.4 129.8 L571.2 129.6 L571 129.4 L570.8 129.2 L570.6 129 L570.4 128.8 L570.2 128.6 L569.8 128.3 L569.5 128.1 L569.3 127.8 L569.1 127.6 L569 127.4 L568.8 127.2 L568.7 127 L568.6 126.8 L568.5 126.6 L568.4 126.4 L568.4 126.2 L568.3 126 L568.3 125.8 L568.3 125.6 L568.3 125.5 L568.3 125.3 L568.4 125.1 L568.4 125 L568.5 124.8 L568.6 124.7 L568.7 124.5 L568.8 124.4 L569 124.2 L569.1 124.1 L569.3 124 L569.5 123.9 L569.7 123.8 L569.9 123.7 L570.2 123.6 L570.4 123.5 L570.7 123.5 L571.1 123.4 L571.4 123.4 L571.9 123.4 L572.3 123.4 L572.6 123.4 L572.9 123.4 L573.2 123.3 L573.5 123.3 L573.8 123.2 L574.1 123.2 L574.4 123.1 L574.6 123.1 L574.8 123 L575 122.9 L575.2 122.8 L575.4 122.7 L575.5 122.6 L575.6 122.5 L575.7 122.4 L575.8 122.2 L575.8 122.1 L575.9 121.9 L575.9 121.7 L575.8 121.5 L575.8 121.3 L575.7 121.1 L575.6 120.9 L575.5 120.6 L575.4 120.3 L575.3 120.1 L575.1 119.8 L575 119.5 L574.8 119.2 L574.7 118.9 L574.4 118.6 L574.1 118.2 L573.9 117.9 L573.7 117.5 L573.6 117.2 L573.4 117 L573.4 116.7 L573.3 116.4 L573.3 116.2 L573.2 116 L573.2 115.7 L573.2 115.5 L573.3 115.3 L573.3 115.1 L573.4 114.9 L573.5 114.8 L573.6 114.6 L573.7 114.5 L573.9 114.4 L574 114.2 L574.2 114.1 L574.4 114 L574.6 114 L574.9 113.9 L575.1 113.9 L575.4 113.8 L575.7 113.8 L576.1 113.8 L576.4 113.8 L576.8 113.9 L577.4 114.1 L577.8 114.2 L578.2 114.2 L578.5 114.2 L578.9 114.3 L579.2 114.3 L579.5 114.3 L579.8 114.3 L580.1 114.3 L580.4 114.3 L580.6 114.3 L580.8 114.2 L581 114.1 L581.2 114 L581.3 113.9 L581.5 113.8 L581.6 113.6 L581.6 113.5 L581.7 113.2 L581.7 113 L581.7 112.8 L581.6 112.5 L581.6 112.2 L581.5 111.9 L581.4 111.6 L581.3 111.3 L581.2 111 L581.1 110.6 L581 110.3 L580.8 109.8 L580.5 109.3 L580.4 108.9 L580.2 108.6 L580.2 108.2 L580.1 107.9 L580.1 107.6 L580.1 107.3 L580.1 107.1 L580.1 106.8 L580.2 106.6 L580.2 106.4 L580.3 106.2 L580.4 106 L580.6 105.9 L580.7 105.7 L580.9 105.6 L581.1 105.5 L581.3 105.4 L581.5 105.4 L581.8 105.3 L582 105.3 L582.3 105.3 L582.6 105.3 L582.9 105.4 L583.3 105.4 L583.7 105.5 L584.1 105.7 L584.7 106 L585.1 106.1 L585.4 106.2 L585.8 106.3 L586.1 106.4 L586.5 106.5 L586.8 106.6 L587.1 106.6 L587.4 106.7 L587.7 106.7 L587.9 106.7 L588.2 106.6 L588.3 106.6 L588.5 106.5 L588.7 106.3 L588.8 106.2 L588.9 106 L588.9 105.8 L589 105.5 L589 105.3 L589 105 L589 104.7 L589 104.3 L588.9 104 L588.9 103.6 L588.8 103.2 L588.7 102.8 L588.7 102.5 L588.4 101.8 L588.3 101.4 L588.2 101 L588.2 100.6 L588.2 100.3 L588.2 100 L588.3 99.7 L588.3 99.4 L588.4 99.2 L588.5 98.9 L588.6 98.7 L588.7 98.6 L588.9 98.4 L589 98.3 L589.2 98.2 L589.4 98.1 L589.6 98 L589.9 98 L590.1 98 L590.4 98 L590.7 98 L591 98.1 L591.3 98.2 L591.6 98.3 L592 98.4 L592.4 98.7 L592.9 99 L593.3 99.3 L593.7 99.4 L594 99.6 L594.4 99.7 L594.7 99.9 L595 100 L595.3 100.1 L595.6 100.2 L595.9 100.2 L596.2 100.2 L596.4 100.2 L596.6 100.2 L596.8 100.1 L596.9 100 L597.1 99.9 L597.2 99.7 L597.3 99.5 L597.4 99.2 L597.4 99 L597.5 98.7 L597.5 98.3 L597.5 98 L597.5 97.6 L597.5 97.2 L597.5 96.9 L597.5 96.5 L597.4 95.9 L597.3 95.4 L597.3 94.9 L597.3 94.5 L597.3 94.2 L597.4 93.8 L597.4 93.5 L597.5 93.3 L597.6 93 L597.7 92.8 L597.8 92.6 L598 92.4 L598.1 92.3 L598.3 92.2 L598.5 92.1 L598.7 92 L598.9 91.9 L599.1 91.9 L599.4 91.9 L599.6 92 L599.9 92 L600.2 92.1 L600.5 92.2 L600.8 92.4 L601.1 92.5 L601.5 92.8 L601.9 93.1 L602.3 93.5 L602.7 93.8 L603 94 L603.3 94.2 L603.6 94.4 L603.9 94.5 L604.2 94.7 L604.5 94.8 L604.8 94.9 L605 95 L605.3 95.1 L605.5 95.1 L605.7 95.1 L605.9 95 L606 94.9 L606.2 94.8 L606.3 94.6 L606.5 94.4 L606.6 94.2 L606.7 93.9 L606.7 93.7 L606.8 93.3 L606.9 93 L606.9 92.7 L607 92.3 L607 91.9 L607.1 91.5 L607.1 91 L607 90.4 L607.1 90 L607.1 89.6 L607.2 89.3 L607.3 89 L607.4 88.7 L607.5 88.4 L607.7 88.2 L607.8 88 L607.9 87.8 L608.1 87.7 L608.3 87.5 L608.5 87.4 L608.6 87.4 L608.8 87.3 L609 87.3 L609.3 87.3 L609.5 87.3 L609.7 87.4 L610 87.4 L610.2 87.5 L610.5 87.7 L610.7 87.8 L611 88 L611.3 88.2 L611.6 88.5 L611.9 88.8 L612.3 89.3 L612.6 89.6 L612.9 89.8 L613.1 90.1 L613.4 90.3 L613.7 90.5 L613.9 90.7 L614.2 90.9 L614.4 91 L614.6 91.2 L614.8 91.3 L615.1 91.3 L615.2 91.4 L615.4 91.3 L615.6 91.3 L615.8 91.2 L615.9 91.1 L616.1 91 L616.2 90.8 L616.4 90.6 L616.5 90.4 L616.6 90.1 L616.7 89.9 L616.8 89.6 L616.9 89.3 L617 88.9 L617.2 88.6 L617.3 88.2 L617.4 87.9 L617.4 87.3 L617.5 86.8 L617.6 86.5 L617.7 86.1 L617.9 85.9 L618 85.6 L618.1 85.4 L618.3 85.1 L618.5 85 L618.6 84.8 L618.8 84.7 L619 84.5 L619.1 84.4 L619.3 84.4 L619.5 84.3 L619.7 84.3 L619.9 84.3 L620.1 84.3 L620.3 84.4 L620.5 84.4 L620.7 84.5 L620.9 84.6 L621.1 84.8 L621.3 84.9 L621.5 85.1 L621.8 85.3 L622 85.6 L622.2 85.8 L622.4 86.2 L622.7 86.6 L622.9 87 L623.1 87.3 L623.3 87.6 L623.5 87.8 L623.7 88.1 L623.9 88.3 L624.1 88.5 L624.3 88.7 L624.5 88.9 L624.7 89 L624.9 89.2 L625 89.3 L625.2 89.3 L625.4 89.4 L625.5 89.4 L625.7 89.4 L625.9 89.4 L626 89.3 L626.2 89.2 L626.3 89.1 L626.5 88.9 L626.6 88.8 L626.8 88.6 L626.9 88.4 L627.1 88.2 L627.2 87.9 L627.4 87.7 L627.5 87.4 L627.7 87.1 L627.9 86.8 L628 86.6 L628.2 86.1 L628.3 85.7 L628.5 85.4 L628.7 85.1 L628.8 84.8 L629 84.6 L629.2 84.4 L629.4 84.3 L629.5 84.1 L629.7 84 L629.9 83.9 L630.1 83.8 L630.2 83.7 L630.4 83.6 L630.6 83.6 L630.8 83.6 L630.9 83.6 L631.1 83.6 L631.3 83.6 L631.5 83.7 L631.6 83.8 L631.8 83.8 L632 84 L632.1 84.1 L632.3 84.2 L632.4 84.4 L632.6 84.5 L632.7 84.7 L632.9 84.9 L633 85.2 L633.2 85.4 L633.3 85.7 L633.4 86 L633.5 86.5 L633.6 86.9 L633.7 87.1 L633.9 87.4 L634 87.7 L634.1 87.9 L634.2 88.1 L634.3 88.4 L634.4 88.6 L634.5 88.8 L634.7 89 L634.8 89.1 L634.9 89.3 L635 89.4 L635.1 89.5 L635.2 89.6 L635.4 89.7 L635.5 89.8 L635.6 89.8 L635.8 89.8 L635.9 89.8 L636 89.8 L636.2 89.8 L636.3 89.7 L636.5 89.6 L636.7 89.5 L636.8 89.4 L637 89.3 L637.2 89.2 L637.4 89 L637.5 88.9 L637.7 88.7 L637.9 88.6 L638.1 88.4 L638.3 88.2 L638.5 88.1 L638.7 87.9 L639 87.5 L639.2 87.3 L639.4 87.1 L639.6 86.9 L639.9 86.7 L640.1 86.6 L640.3 86.5 L640.4 86.4 L640.6 86.3 L640.8 86.3 L641 86.2 L641.2 86.2 L641.3 86.2 L641.5 86.2 L641.7 86.2 L641.8 86.2 L642 86.2 L642.1 86.2 L642.3 86.3 L642.4 86.3 L642.6 86.4 L642.7 86.5 L642.8 86.6 L642.9 86.7 L643.1 86.8 L643.2 87 L643.3 87.1 L643.4 87.2 L643.4 87.4 L643.5 87.6 L643.6 87.7 L643.7 87.9 L643.7 88.1 L643.8 88.3 L643.8 88.5 L643.9 88.8 L643.9 89 L643.9 89.3 L643.9 89.6 L643.8 90 L643.8 90.2 L643.8 90.5 L643.8 90.7 L643.8 90.9 L643.8 91.1 L643.9 91.3 L643.9 91.5 L643.9 91.7 L643.9 91.9 L643.9 92.1 L644 92.3 L644 92.4 L644 92.6 L644.1 92.7 L644.1 92.8 L644.2 93 L644.2 93.1 L644.3 93.2 L644.4 93.3 L644.5 93.3 L644.6 93.4 L644.7 93.5 L644.8 93.5 L644.9 93.5 L645 93.6 L645.1 93.6 L645.3 93.6 L645.4 93.6 L645.6 93.6 L645.7 93.6 L645.9 93.6 L646.1 93.6 L646.2 93.6 L646.4 93.5 L646.6 93.5 L646.8 93.5 L647 93.4 L647.2 93.4 L647.4 93.4 L647.6 93.4 L647.8 93.3 L648 93.3 L648.4 93.1 L648.6 93.1 L648.8 93.1 L649 93 L649.2 93 L649.4 93 L649.6 93.1 L649.8 93.1 L650 93.1 L650.1 93.2 L650.3 93.2 L650.4 93.3 L650.6 93.3 L650.7 93.4 L650.8 93.5 L650.9 93.6 L651.1 93.7 L651.2 93.8 L651.3 93.9 L651.3 94 L651.4 94.1 L651.5 94.2 L651.6 94.3 L651.6 94.4 L651.7 94.6 L651.7 94.7Z" fill="#fff" stroke="#1d1d1d" stroke-width="2" />
<path d="M653.9 98.3 L654 98.4 L654 98.6 L654 98.7 L654.1 98.9 L654.1 99 L654.1 99.2 L654.1 99.4 L654 99.5 L654 99.7 L654 99.9 L654 100 L653.9 100.2 L653.9 100.4 L653.8 100.6 L653.7 100.8 L653.6 100.9 L653.5 101.2 L653.3 101.4 L653.2 101.6 L653.1 101.7 L653 101.9 L653 102.1 L652.9 102.2 L652.8 102.4 L652.7 102.6 L652.7 102.7 L652.6 102.9 L652.6 103 L652.5 103.2 L652.5 103.3 L652.5 103.4 L652.4 103.6 L652.4 103.7 L652.4 103.8 L652.4 103.9 L652.4 104.1 L652.4 104.2 L652.4 104.3 L652.5 104.4 L652.5 104.5 L652.6 104.6 L652.6 104.7 L652.7 104.8 L652.8 104.9 L652.9 105 L653 105.1 L653.1 105.2 L653.2 105.3 L653.3 105.4 L653.4 105.5 L653.5 105.6 L653.7 105.7 L653.8 105.8 L653.9 105.9 L654.1 105.9 L654.2 106 L654.4 106.1 L654.5 106.3 L654.7 106.4 L654.9 106.5 L655.1 106.5 L655.3 106.7 L655.5 106.8 L655.7 106.9 L655.8 107 L655.9 107.1 L656.1 107.2 L656.2 107.4 L656.3 107.5 L656.4 107.6 L656.4 107.8 L656.5 107.9 L656.6 108 L656.6 108.2 L656.7 108.3 L656.7 108.5 L656.8 108.6 L656.8 108.7 L656.8 108.9 L656.8 109 L656.8 109.2 L656.8 109.3 L656.8 109.5 L656.8 109.6 L656.7 109.8 L656.7 109.9 L656.7 110.1 L656.6 110.2 L656.5 110.3 L656.5 110.5 L656.4 110.6 L656.3 110.8 L656.2 110.9 L656.1 111.1 L656 111.2 L655.9 111.3 L655.7 111.5 L655.6 111.6 L655.4 111.7 L655.2 111.9 L655 112 L654.9 112.1 L654.7 112.3 L654.6 112.4 L654.4 112.5 L654.3 112.6 L654.2 112.8 L654.1 112.9 L654 113 L653.9 113.1 L653.8 113.3 L653.7 113.4 L653.6 113.5 L653.5 113.6 L653.4 113.8 L653.4 113.9 L653.3 114 L653.3 114.2 L653.3 114.3 L653.3 114.5 L653.3 114.6 L653.3 114.7 L653.3 114.9 L653.3 115 L653.3 115.2 L653.4 115.3 L653.4 115.5 L653.5 115.7 L653.5 115.8 L653.6 116 L653.7 116.2 L653.7 116.3 L653.8 116.5 L653.9 116.7 L654 116.9 L654.1 117 L654.2 117.2 L654.4 117.4 L654.5 117.6 L654.6 117.8 L654.7 118 L654.7 118.2 L654.8 118.4 L654.8 118.5 L654.8 118.7 L654.9 118.9 L654.9 119.1 L654.9 119.2 L654.9 119.4 L654.9 119.6 L654.8 119.7 L654.8 119.9 L654.8 120.1 L654.7 120.2 L654.6 120.4 L654.6 120.5 L654.5 120.7 L654.4 120.8 L654.3 121 L654.2 121.1 L654.1 121.2 L654 121.4 L653.9 121.5 L653.7 121.6 L653.6 121.7 L653.4 121.9 L653.3 122 L653.1 122.1 L652.9 122.2 L652.7 122.3 L652.4 122.3 L652.2 122.4 L652 122.5 L651.8 122.6 L651.7 122.7 L651.5 122.8 L651.3 122.9 L651.1 123 L651 123.1 L650.8 123.2 L650.7 123.3 L650.6 123.5 L650.4 123.6 L650.3 123.7 L650.2 123.8 L650.1 124 L650 124.1 L650 124.3 L649.9 124.4 L649.9 124.6 L649.8 124.8 L649.8 124.9 L649.8 125.1 L649.8 125.3 L649.8 125.5 L649.8 125.7 L649.8 125.9 L649.8 126.1 L649.8 126.3 L649.8 126.5 L649.9 126.7 L649.9 126.9 L649.9 127.2 L650 127.4 L650.1 127.7 L650.1 127.9 L650.1 128.1 L650.1 128.3 L650.1 128.5 L650.1 128.7 L650.1 128.9 L650 129.1 L650 129.3 L649.9 129.5 L649.8 129.6 L649.7 129.8 L649.7 130 L649.6 130.1 L649.5 130.3 L649.3 130.4 L649.2 130.6 L649.1 130.7 L648.9 130.8 L648.8 130.9 L648.6 131.1 L648.5 131.2 L648.3 131.3 L648.1 131.4 L647.9 131.5 L647.7 131.5 L647.5 131.6 L647.3 131.7 L647 131.7 L646.7 131.7 L646.5 131.8 L646.3 131.9 L646.1 131.9 L645.9 132 L645.7 132.1 L645.5 132.2 L645.3 132.3 L645.1 132.4 L644.9 132.5 L644.8 132.6 L644.6 132.7 L644.5 132.8 L644.4 132.9 L644.3 133.1 L644.1 133.2 L644.1 133.4 L644 133.6 L643.9 133.7 L643.8 133.9 L643.8 134.1 L643.7 134.3 L643.7 134.5 L643.6 134.8 L643.6 135 L643.6 135.2 L643.6 135.4 L643.5 135.7 L643.5 135.9 L643.6 136.2 L643.6 136.5 L643.6 136.7 L643.5 136.9 L643.5 137.1 L643.4 137.3 L643.3 137.5 L643.2 137.7 L643.2 137.9 L643.1 138.1 L642.9 138.3 L642.8 138.4 L642.7 138.6 L642.6 138.7 L642.4 138.9 L642.3 139 L642.1 139.1 L642 139.2 L641.8 139.3 L641.6 139.4 L641.4 139.5 L641.2 139.6 L641 139.7 L640.8 139.7 L640.6 139.8 L640.3 139.8 L640.1 139.9 L639.7 139.8 L639.5 139.8 L639.3 139.9 L639 139.9 L638.8 140 L638.6 140 L638.4 140.1 L638.1 140.1 L637.9 140.2 L637.7 140.3 L637.6 140.3 L637.4 140.4 L637.2 140.5 L637.1 140.7 L636.9 140.8 L636.8 140.9 L636.7 141.1 L636.5 141.2 L636.4 141.4 L636.3 141.6 L636.2 141.8 L636.2 142 L636.1 142.2 L636 142.4 L635.9 142.7 L635.9 142.9 L635.8 143.1 L635.7 143.4 L635.8 143.7 L635.7 144 L635.6 144.2 L635.6 144.4 L635.5 144.6 L635.4 144.8 L635.3 145 L635.1 145.2 L635 145.4 L634.9 145.5 L634.7 145.7 L634.6 145.8 L634.4 146 L634.3 146.1 L634.1 146.2 L633.9 146.3 L633.8 146.4 L633.6 146.5 L633.4 146.6 L633.2 146.6 L633 146.7 L632.7 146.8 L632.5 146.8 L632.3 146.8 L632 146.8 L631.8 146.8 L631.5 146.7 L631.2 146.7 L631 146.7 L630.7 146.7 L630.5 146.7 L630.2 146.7 L630 146.8 L629.8 146.8 L629.6 146.8 L629.4 146.9 L629.2 146.9 L629 147 L628.8 147.1 L628.6 147.2 L628.4 147.3 L628.3 147.4 L628.1 147.6 L628 147.7 L627.9 147.9 L627.7 148 L627.6 148.2 L627.5 148.4 L627.4 148.6 L627.3 148.8 L627.2 149.1 L627.1 149.3 L627 149.5 L626.9 149.8 L626.9 150.1 L626.8 150.3 L626.7 150.5 L626.6 150.7 L626.4 150.9 L626.3 151.1 L626.2 151.3 L626 151.4 L625.9 151.6 L625.7 151.7 L625.5 151.8 L625.4 152 L625.2 152.1 L625 152.2 L624.8 152.3 L624.6 152.3 L624.4 152.4 L624.2 152.5 L624 152.5 L623.8 152.5 L623.6 152.6 L623.4 152.6 L623.1 152.6 L622.9 152.6 L622.7 152.5 L622.4 152.5 L622.1 152.3 L621.9 152.3 L621.6 152.3 L621.4 152.2 L621.2 152.2 L620.9 152.2 L620.7 152.2 L620.5 152.2 L620.3 152.2 L620.1 152.2 L619.9 152.2 L619.7 152.3 L619.5 152.3 L619.3 152.4 L619.1 152.5 L618.9 152.6 L618.8 152.7 L618.6 152.8 L618.5 153 L618.3 153.1 L618.2 153.3 L618 153.5 L617.9 153.7 L617.8 153.8 L617.6 154 L617.5 154.2 L617.4 154.4 L617.3 154.7 L617.2 155 L617.1 155.2 L616.9 155.4 L616.8 155.6 L616.7 155.8 L616.5 155.9 L616.3 156.1 L616.2 156.2 L616 156.3 L615.9 156.4 L615.7 156.5 L615.5 156.6 L615.3 156.7 L615.1 156.8 L614.9 156.9 L614.8 156.9 L614.6 156.9 L614.4 157 L614.2 157 L613.9 157 L613.7 157 L613.5 157 L613.3 157 L613.1 156.9 L612.9 156.9 L612.6 156.8 L612.4 156.7 L612.1 156.5 L611.9 156.4 L611.7 156.4 L611.5 156.3 L611.2 156.3 L611 156.2 L610.8 156.2 L610.6 156.1 L610.4 156.1 L610.2 156.1 L610 156.1 L609.8 156.1 L609.6 156.1 L609.4 156.1 L609.3 156.2 L609.1 156.2 L608.9 156.3 L608.7 156.4 L608.6 156.5 L608.4 156.6 L608.3 156.7 L608.1 156.8 L607.9 157 L607.8 157.1 L607.6 157.3 L607.5 157.5 L607.3 157.6 L607.2 157.8 L607 158 L606.9 158.2 L606.8 158.5 L606.6 158.6 L606.5 158.8 L606.3 158.9 L606.2 159.1 L606 159.2 L605.8 159.3 L605.7 159.4 L605.5 159.5 L605.3 159.6 L605.1 159.7 L605 159.7 L604.8 159.8 L604.6 159.8 L604.4 159.8 L604.2 159.9 L604 159.9 L603.9 159.9 L603.7 159.9 L603.5 159.8 L603.3 159.8 L603.1 159.8 L602.9 159.7 L602.7 159.7 L602.5 159.6 L602.3 159.5 L602.1 159.4 L601.9 159.3 L601.7 159.1 L601.5 158.9 L601.3 158.8 L601.1 158.7 L600.9 158.6 L600.8 158.5 L600.6 158.4 L600.4 158.3 L600.2 158.3 L600 158.2 L599.9 158.1 L599.7 158.1 L599.5 158 L599.3 158 L599.2 158 L599 158 L598.8 158 L598.7 158 L598.5 158.1 L598.3 158.1 L598.2 158.2 L598 158.2 L597.8 158.3 L597.7 158.4 L597.5 158.5 L597.4 158.6 L597.2 158.7 L597 158.8 L596.9 158.9 L596.7 159.1 L596.5 159.2 L596.4 159.3 L596.2 159.5 L596.1 159.7 L595.9 159.9 L595.7 160 L595.6 160.1 L595.4 160.2 L595.2 160.3 L595 160.4 L594.9 160.5 L594.7 160.5 L594.5 160.6 L594.4 160.6 L594.2 160.7 L594 160.7 L593.9 160.7 L593.7 160.7 L593.5 160.7 L593.4 160.7 L593.2 160.7 L593 160.7 L592.9 160.6 L592.7 160.6 L592.5 160.5 L592.4 160.5 L592.2 160.4 L592.1 160.3 L591.9 160.2 L591.8 160.1 L591.6 160 L591.5 159.9 L591.3 159.8 L591.2 159.6 L591 159.5 L590.9 159.2 L590.8 159 L590.6 158.9 L590.5 158.7 L590.4 158.6 L590.2 158.5 L590.1 158.3 L590 158.2 L589.8 158.1 L589.7 158 L589.6 157.8 L589.4 157.7 L589.3 157.7 L589.2 157.6 L589 157.5 L588.9 157.4 L588.8 157.4 L588.6 157.3 L588.5 157.3 L588.4 157.2 L588.2 157.2 L588.1 157.2 L587.9 157.2 L587.8 157.2 L587.6 157.3 L587.5 157.3 L587.3 157.3 L587.2 157.4 L587 157.4 L586.9 157.5 L586.7 157.5 L586.5 157.6 L586.4 157.7 L586.2 157.7 L586 157.8 L585.8 157.9 L585.7 158 L585.5 158.1 L585.3 158.3 L585.1 158.4 L584.9 158.5 L584.7 158.5 L584.6 158.6 L584.4 158.6 L584.2 158.7 L584 158.7 L583.9 158.7 L583.7 158.7 L583.6 158.7 L583.4 158.7 L583.3 158.7 L583.1 158.7 L582.9 158.7 L582.8 158.6 L582.7 158.6 L582.5 158.6 L582.4 158.5 L582.2 158.4 L582.1 158.4 L582 158.3 L581.9 158.2 L581.7 158.1 L581.6 158 L581.5 157.9 L581.4 157.8 L581.3 157.7 L581.2 157.6 L581.1 157.5 L581 157.3 L580.9 157.2 L580.9 157 L580.8 156.9 L580.7 156.7 L580.7 156.5 L580.6 156.3 L580.6 156.1 L580.6 155.8 L580.6 155.6 L580.5 155.5 L580.5 155.3 L580.4 155.1 L580.4 154.9 L580.4 154.8 L580.3 154.6 L580.3 154.4 L580.2 154.3 L580.2 154.1 L580.1 154 L580.1 153.8 L580 153.7 L580 153.6 L579.9 153.5 L579.8 153.3 L579.8 153.2 L579.7 153.1 L579.6 153.1 L579.5 153 L579.5 152.9 L579.4 152.8 L579.3 152.8 L579.2 152.7 L579.1 152.7 L578.9 152.6 L578.8 152.6 L578.7 152.5 L578.6 152.5 L578.4 152.5 L578.3 152.5 L578.1 152.5 L578 152.5 L577.8 152.5 L577.6 152.5 L577.5 152.5 L577.3 152.5 L577.1 152.5 L576.9 152.5 L576.8 152.5 L576.6 152.5 L576.4 152.5 L576.1 152.6 L575.9 152.7 L575.6 152.7 L575.5 152.7 L575.3 152.7 L575.1 152.6 L574.9 152.6 L574.7 152.6 L574.6 152.6 L574.4 152.5 L574.3 152.5 L574.1 152.4 L574 152.3 L573.8 152.3 L573.7 152.2 L573.6 152.1 L573.5 152 L573.4 152 L573.3 151.9 L573.2 151.8 L573.1 151.7 L573 151.5 L572.9 151.4 L572.8 151.3 L572.8 151.2 L572.7 151.1 L572.6 150.9 L572.6 150.8 L572.6 150.7 L572.5 150.5 L572.5 150.4 L572.5 150.2 L572.5 150.1 L572.5 149.9 L572.5 149.7 L572.6 149.6 L572.6 149.4 L572.6 149.2 L572.7 149 L572.8 148.9 L572.9 148.7 L573 148.5 L573.1 148.3 L573.3 148 L573.4 147.8 L573.5 147.6 L573.6 147.5 L573.7 147.3 L573.8 147.1 L573.9 147 L574 146.8 L574.1 146.6 L574.1 146.5 L574.2 146.3 L574.3 146.2 L574.4 146 L574.4 145.9 L574.5 145.7 L574.5 145.6 L574.5 145.5 L574.6 145.3 L574.6 145.2 L574.6 145.1 L574.6 145 L574.5 144.9 L574.5 144.8 L574.5 144.7 L574.4 144.6 L574.4 144.5 L574.3 144.4 L574.2 144.3 L574.1 144.2 L574 144.1 L573.9 144 L573.7 143.9 L573.6 143.8 L573.4 143.8 L573.3 143.7 L573.1 143.6 L572.9 143.5 L572.7 143.4 L572.6 143.3 L572.4 143.2 L572.2 143.1 L572 143 L571.8 142.9 L571.4 142.9 L571.1 142.8 L570.8 142.7 L570.6 142.6 L570.4 142.5 L570.3 142.3 L570.1 142.2 L569.9 142.1 L569.8 142 L569.7 141.8 L569.5 141.7 L569.4 141.6 L569.3 141.4 L569.2 141.3 L569.1 141.1 L569.1 141 L569 140.8 L569 140.7 L568.9 140.6 L568.9 140.4 L568.9 140.3 L568.9 140.1 L568.9 139.9 L568.9 139.8 L569 139.6 L569 139.5 L569.1 139.3 L569.2 139.2 L569.2 139 L569.3 138.9 L569.5 138.7 L569.6 138.6 L569.7 138.5 L569.9 138.3 L570.1 138.2 L570.2 138 L570.5 137.9 L570.7 137.8 L571 137.6 L571.3 137.5 L571.7 137.4 L571.9 137.3 L572.1 137.2 L572.3 137.1 L572.6 136.9 L572.8 136.8 L573 136.7 L573.2 136.6 L573.4 136.5 L573.6 136.4 L573.7 136.3 L573.9 136.1 L574 136 L574.1 135.9 L574.2 135.8 L574.3 135.7 L574.4 135.5 L574.5 135.4 L574.5 135.3 L574.5 135.2 L574.5 135 L574.5 134.9 L574.5 134.7 L574.4 134.6 L574.3 134.4 L574.2 134.3 L574.1 134.1 L574 133.9 L573.9 133.8 L573.7 133.6 L573.6 133.4 L573.4 133.2 L573.2 133 L573 132.8 L572.8 132.6 L572.6 132.4 L572.4 132.2 L572 131.9 L571.7 131.7 L571.5 131.4 L571.3 131.2 L571.2 131 L571 130.8 L570.9 130.6 L570.8 130.4 L570.7 130.2 L570.6 130 L570.6 129.8 L570.5 129.6 L570.5 129.4 L570.5 129.2 L570.5 129.1 L570.5 128.9 L570.6 128.7 L570.6 128.6 L570.7 128.4 L570.8 128.3 L570.9 128.1 L571 128 L571.2 127.8 L571.3 127.7 L571.5 127.6 L571.7 127.5 L571.9 127.4 L572.1 127.3 L572.4 127.2 L572.6 127.1 L572.9 127.1 L573.3 127 L573.6 127 L574.1 127 L574.5 127 L574.8 127 L575.1 127 L575.4 126.9 L575.7 126.9 L576 126.8 L576.3 126.8 L576.6 126.7 L576.8 126.7 L577 126.6 L577.2 126.5 L577.4 126.4 L577.6 126.3 L577.7 126.2 L577.8 126.1 L577.9 126 L578 125.8 L578 125.7 L578.1 125.5 L578.1 125.3 L578 125.1 L578 124.9 L577.9 124.7 L577.8 124.5 L577.7 124.2 L577.6 123.9 L577.5 123.7 L577.3 123.4 L577.2 123.1 L577 122.8 L576.9 122.5 L576.6 122.2 L576.3 121.8 L576.1 121.5 L575.9 121.1 L575.8 120.8 L575.6 120.6 L575.6 120.3 L575.5 120 L575.5 119.8 L575.4 119.6 L575.4 119.3 L575.4 119.1 L575.5 118.9 L575.5 118.7 L575.6 118.5 L575.7 118.4 L575.8 118.2 L575.9 118.1 L576.1 118 L576.2 117.8 L576.4 117.7 L576.6 117.6 L576.8 117.6 L577.1 117.5 L577.3 117.5 L577.6 117.4 L577.9 117.4 L578.3 117.4 L578.6 117.4 L579 117.5 L579.6 117.7 L580 117.8 L580.4 117.8 L580.7 117.8 L581.1 117.9 L581.4 117.9 L581.7 117.9 L582 117.9 L582.3 117.9 L582.6 117.9 L582.8 117.9 L583 117.8 L583.2 117.7 L583.4 117.6 L583.5 117.5 L583.7 117.4 L583.8 117.2 L583.8 117.1 L583.9 116.8 L583.9 116.6 L583.9 116.4 L583.8 116.1 L583.8 115.8 L583.7 115.5 L583.6 115.2 L583.5 114.9 L583.4 114.6 L583.3 114.2 L583.2 113.9 L583 113.4 L582.7 112.9 L582.6 112.5 L582.4 112.2 L582.4 111.8 L582.3 111.5 L582.3 111.2 L582.3 110.9 L582.3 110.7 L582.3 110.4 L582.4 110.2 L582.4 110 L582.5 109.8 L582.6 109.6 L582.8 109.5 L582.9 109.3 L583.1 109.2 L583.3 109.1 L583.5 109 L583.7 109 L584 108.9 L584.2 108.9 L584.5 108.9 L584.8 108.9 L585.1 109 L585.5 109 L585.9 109.1 L586.3 109.3 L586.9 109.6 L587.3 109.7 L587.6 109.8 L588 109.9 L588.3 110 L588.7 110.1 L589 110.2 L589.3 110.2 L589.6 110.3 L589.9 110.3 L590.1 110.3 L590.4 110.2 L590.5 110.2 L590.7 110.1 L590.9 109.9 L591 109.8 L591.1 109.6 L591.1 109.4 L591.2 109.1 L591.2 108.9 L591.2 108.6 L591.2 108.3 L591.2 107.9 L591.1 107.6 L591.1 107.2 L591 106.8 L590.9 106.4 L590.9 106.1 L590.6 105.4 L590.5 105 L590.4 104.6 L590.4 104.2 L590.4 103.9 L590.4 103.6 L590.5 103.3 L590.5 103 L590.6 102.8 L590.7 102.5 L590.8 102.3 L590.9 102.2 L591.1 102 L591.2 101.9 L591.4 101.8 L591.6 101.7 L591.8 101.6 L592.1 101.6 L592.3 101.6 L592.6 101.6 L592.9 101.6 L593.2 101.7 L593.5 101.8 L593.8 101.9 L594.2 102 L594.6 102.3 L595.1 102.6 L595.5 102.9 L595.9 103 L596.2 103.2 L596.6 103.3 L596.9 103.5 L597.2 103.6 L597.5 103.7 L597.8 103.8 L598.1 103.8 L598.4 103.8 L598.6 103.8 L598.8 103.8 L599 103.7 L599.1 103.6 L599.3 103.5 L599.4 103.3 L599.5 103.1 L599.6 102.8 L599.6 102.6 L599.7 102.3 L599.7 101.9 L599.7 101.6 L599.7 101.2 L599.7 100.8 L599.7 100.5 L599.7 100.1 L599.6 99.5 L599.5 99 L599.5 98.5 L599.5 98.1 L599.5 97.8 L599.6 97.4 L599.6 97.1 L599.7 96.9 L599.8 96.6 L599.9 96.4 L600 96.2 L600.2 96 L600.3 95.9 L600.5 95.8 L600.7 95.7 L600.9 95.6 L601.1 95.5 L601.3 95.5 L601.6 95.5 L601.8 95.6 L602.1 95.6 L602.4 95.7 L602.7 95.8 L603 96 L603.3 96.1 L603.7 96.4 L604.1 96.7 L604.5 97.1 L604.9 97.4 L605.2 97.6 L605.5 97.8 L605.8 98 L606.1 98.1 L606.4 98.3 L606.7 98.4 L607 98.5 L607.2 98.6 L607.5 98.7 L607.7 98.7 L607.9 98.7 L608.1 98.6 L608.2 98.5 L608.4 98.4 L608.5 98.2 L608.7 98 L608.8 97.8 L608.9 97.5 L608.9 97.3 L609 96.9 L609.1 96.6 L609.1 96.3 L609.2 95.9 L609.2 95.5 L609.3 95.1 L609.3 94.6 L609.2 94 L609.3 93.6 L609.3 93.2 L609.4 92.9 L609.5 92.6 L609.6 92.3 L609.7 92 L609.9 91.8 L610 91.6 L610.1 91.4 L610.3 91.3 L610.5 91.1 L610.7 91 L610.8 91 L611 90.9 L611.2 90.9 L611.5 90.9 L611.7 90.9 L611.9 91 L612.2 91 L612.4 91.1 L612.7 91.3 L612.9 91.4 L613.2 91.6 L613.5 91.8 L613.8 92.1 L614.1 92.4 L614.5 92.9 L614.8 93.2 L615.1 93.4 L615.3 93.7 L615.6 93.9 L615.9 94.1 L616.1 94.3 L616.4 94.5 L616.6 94.6 L616.8 94.8 L617 94.9 L617.3 94.9 L617.4 95 L617.6 94.9 L617.8 94.9 L618 94.8 L618.1 94.7 L618.3 94.6 L618.4 94.4 L618.6 94.2 L618.7 94 L618.8 93.7 L618.9 93.5 L619 93.2 L619.1 92.9 L619.2 92.5 L619.4 92.2 L619.5 91.8 L619.6 91.5 L619.6 90.9 L619.7 90.4 L619.8 90.1 L619.9 89.7 L620.1 89.5 L620.2 89.2 L620.3 89 L620.5 88.7 L620.7 88.6 L620.8 88.4 L621 88.3 L621.2 88.1 L621.3 88 L621.5 88 L621.7 87.9 L621.9 87.9 L622.1 87.9 L622.3 87.9 L622.5 88 L622.7 88 L622.9 88.1 L623.1 88.2 L623.3 88.4 L623.5 88.5 L623.7 88.7 L624 88.9 L624.2 89.2 L624.4 89.4 L624.6 89.8 L624.9 90.2 L625.1 90.6 L625.3 90.9 L625.5 91.2 L625.7 91.4 L625.9 91.7 L626.1 91.9 L626.3 92.1 L626.5 92.3 L626.7 92.5 L626.9 92.6 L627.1 92.8 L627.2 92.9 L627.4 92.9 L627.6 93 L627.7 93 L627.9 93 L628.1 93 L628.2 92.9 L628.4 92.8 L628.5 92.7 L628.7 92.5 L628.8 92.4 L629 92.2 L629.1 92 L629.3 91.8 L629.4 91.5 L629.6 91.3 L629.7 91 L629.9 90.7 L630.1 90.4 L630.2 90.2 L630.4 89.7 L630.5 89.3 L630.7 89 L630.9 88.7 L631 88.4 L631.2 88.2 L631.4 88 L631.6 87.9 L631.7 87.7 L631.9 87.6 L632.1 87.5 L632.3 87.4 L632.4 87.3 L632.6 87.2 L632.8 87.2 L633 87.2 L633.1 87.2 L633.3 87.2 L633.5 87.2 L633.7 87.3 L633.8 87.4 L634 87.4 L634.2 87.6 L634.3 87.7 L634.5 87.8 L634.6 88 L634.8 88.1 L634.9 88.3 L635.1 88.5 L635.2 88.8 L635.4 89 L635.5 89.3 L635.6 89.6 L635.7 90.1 L635.8 90.5 L635.9 90.7 L636.1 91 L636.2 91.3 L636.3 91.5 L636.4 91.7 L636.5 92 L636.6 92.2 L636.7 92.4 L636.9 92.6 L637 92.7 L637.1 92.9 L637.2 93 L637.3 93.1 L637.4 93.2 L637.6 93.3 L637.7 93.4 L637.8 93.4 L638 93.4 L638.1 93.4 L638.2 93.4 L638.4 93.4 L638.5 93.3 L638.7 93.2 L638.9 93.1 L639 93 L639.2 92.9 L639.4 92.8 L639.6 92.6 L639.7 92.5 L639.9 92.3 L640.1 92.2 L640.3 92 L640.5 91.8 L640.7 91.7 L640.9 91.5 L641.2 91.1 L641.4 90.9 L641.6 90.7 L641.8 90.5 L642.1 90.3 L642.3 90.2 L642.5 90.1 L642.6 90 L642.8 89.9 L643 89.9 L643.2 89.8 L643.4 89.8 L643.5 89.8 L643.7 89.8 L643.9 89.8 L644 89.8 L644.2 89.8 L644.3 89.8 L644.5 89.9 L644.6 89.9 L644.8 90 L644.9 90.1 L645 90.2 L645.1 90.3 L645.3 90.4 L645.4 90.6 L645.5 90.7 L645.6 90.8 L645.6 91 L645.7 91.2 L645.8 91.3 L645.9 91.5 L645.9 91.7 L646 91.9 L646 92.1 L646.1 92.4 L646.1 92.6 L646.1 92.9 L646.1 93.2 L646 93.6 L646 93.8 L646 94.1 L646 94.3 L646 94.5 L646 94.7 L646.1 94.9 L646.1 95.1 L646.1 95.3 L646.1 95.5 L646.1 95.7 L646.2 95.9 L646.2 96 L646.2 96.2 L646.3 96.3 L646.3 96.4 L646.4 96.6 L646.4 96.7 L646.5 96.8 L646.6 96.9 L646.7 96.9 L646.8 97 L646.9 97.1 L647 97.1 L647.1 97.1 L647.2 97.2 L647.3 97.2 L647.5 97.2 L647.6 97.2 L647.8 97.2 L647.9 97.2 L648.1 97.2 L648.3 97.2 L648.4 97.2 L648.6 97.1 L648.8 97.1 L649 97.1 L649.2 97 L649.4 97 L649.6 97 L649.8 97 L650 96.9 L650.2 96.9 L650.6 96.7 L650.8 96.7 L651 96.7 L651.2 96.6 L651.4 96.6 L651.6 96.6 L651.8 96.7 L652 96.7 L652.2 96.7 L652.3 96.8 L652.5 96.8 L652.6 96.9 L652.8 96.9 L652.9 97 L653 97.1 L653.1 97.2 L653.3 97.3 L653.4 97.4 L653.5 97.5 L653.5 97.6 L653.6 97.7 L653.7 97.8 L653.8 97.9 L653.8 98 L653.9 98.2 L653.9 98.3Z" fill="#fff" stroke="#1d1d1d" stroke-width="0.9" />
<path d="M653.9 98.3 L654 98.4 L654 98.6 L654 98.7 L654.1 98.9 L654.1 99 L654.1 99.2 L654.1 99.4 L654 99.5 L654 99.7 L654 99.9 L654 100 L653.9 100.2 L653.9 100.4 L653.8 100.6 L653.7 100.8 L653.6 100.9 L653.5 101.2 L653.3 101.4 L653.2 101.6 L653.1 101.7 L653 101.9 L653 102.1 L652.9 102.2 L652.8 102.4 L652.7 102.6 L652.7 102.7 L652.6 102.9 L652.6 103 L652.5 103.2 L652.5 103.3 L652.5 103.4 L652.4 103.6 L652.4 103.7 L652.4 103.8 L652.4 103.9 L652.4 104.1 L652.4 104.2 L652.4 104.3 L652.5 104.4 L652.5 104.5 L652.6 104.6 L652.6 104.7 L652.7 104.8 L652.8 104.9 L652.9 105 L653 105.1 L653.1 105.2 L653.2 105.3 L653.3 105.4 L653.4 105.5 L653.5 105.6 L653.7 105.7 L653.8 105.8 L653.9 105.9 L654.1 105.9 L654.2 106 L654.4 106.1 L654.5 106.3 L654.7 106.4 L654.9 106.5 L655.1 106.5 L655.3 106.7 L655.5 106.8 L655.7 106.9 L655.8 107 L655.9 107.1 L656.1 107.2 L656.2 107.4 L656.3 107.5 L656.4 107.6 L656.4 107.8 L656.5 107.9 L656.6 108 L656.6 108.2 L656.7 108.3 L656.7 108.5 L656.8 108.6 L656.8 108.7 L656.8 108.9 L656.8 109 L656.8 109.2 L656.8 109.3 L656.8 109.5 L656.8 109.6 L656.7 109.8 L656.7 109.9 L656.7 110.1 L656.6 110.2 L656.5 110.3 L656.5 110.5 L656.4 110.6 L656.3 110.8 L656.2 110.9 L656.1 111.1 L656 111.2 L655.9 111.3 L655.7 111.5 L655.6 111.6 L655.4 111.7 L655.2 111.9 L655 112 L654.9 112.1 L654.7 112.3 L654.6 112.4 L654.4 112.5 L654.3 112.6 L654.2 112.8 L654.1 112.9 L654 113 L653.9 113.1 L653.8 113.3 L653.7 113.4 L653.6 113.5 L653.5 113.6 L653.4 113.8 L653.4 113.9 L653.3 114 L653.3 114.2 L653.3 114.3 L653.3 114.5 L653.3 114.6 L653.3 114.7 L653.3 114.9 L653.3 115 L653.3 115.2 L653.4 115.3 L653.4 115.5 L653.5 115.7 L653.5 115.8 L653.6 116 L653.7 116.2 L653.7 116.3 L653.8 116.5 L653.9 116.7 L654 116.9 L654.1 117 L654.2 117.2 L654.4 117.4 L654.5 117.6 L654.6 117.8 L654.7 118 L654.7 118.2 L654.8 118.4 L654.8 118.5 L654.8 118.7 L654.9 118.9 L654.9 119.1 L654.9 119.2 L654.9 119.4 L654.9 119.6 L654.8 119.7 L654.8 119.9 L654.8 120.1 L654.7 120.2 L654.6 120.4 L654.6 120.5 L654.5 120.7 L654.4 120.8 L654.3 121 L654.2 121.1 L654.1 121.2 L654 121.4 L653.9 121.5 L653.7 121.6 L653.6 121.7 L653.4 121.9 L653.3 122 L653.1 122.1 L652.9 122.2 L652.7 122.3 L652.4 122.3 L652.2 122.4 L652 122.5 L651.8 122.6 L651.7 122.7 L651.5 122.8 L651.3 122.9 L651.1 123 L651 123.1 L650.8 123.2 L650.7 123.3 L650.6 123.5 L650.4 123.6 L650.3 123.7 L650.2 123.8 L650.1 124 L650 124.1 L650 124.3 L649.9 124.4 L649.9 124.6 L649.8 124.8 L649.8 124.9 L649.8 125.1 L649.8 125.3 L649.8 125.5 L649.8 125.7 L649.8 125.9 L649.8 126.1 L649.8 126.3 L649.8 126.5 L649.9 126.7 L649.9 126.9 L649.9 127.2 L650 127.4 L650.1 127.7 L650.1 127.9 L650.1 128.1 L650.1 128.3 L650.1 128.5 L650.1 128.7 L650.1 128.9 L650 129.1 L650 129.3 L649.9 129.5 L649.8 129.6 L649.7 129.8 L649.7 130 L649.6 130.1 L649.5 130.3 L649.3 130.4 L649.2 130.6 L649.1 130.7 L648.9 130.8 L648.8 130.9 L648.6 131.1 L648.5 131.2 L648.3 131.3 L648.1 131.4 L647.9 131.5 L647.7 131.5 L647.5 131.6 L647.3 131.7 L647 131.7 L646.7 131.7 L646.5 131.8 L646.3 131.9 L646.1 131.9 L645.9 132 L645.7 132.1 L645.5 132.2 L645.3 132.3 L645.1 132.4 L644.9 132.5 L644.8 132.6 L644.6 132.7 L644.5 132.8 L644.4 132.9 L644.3 133.1 L644.1 133.2 L644.1 133.4 L644 133.6 L643.9 133.7 L643.8 133.9 L643.8 134.1 L643.7 134.3 L643.7 134.5 L643.6 134.8 L643.6 135 L643.6 135.2 L643.6 135.4 L643.5 135.7 L643.5 135.9 L643.6 136.2 L643.6 136.5 L643.6 136.7 L643.5 136.9 L643.5 137.1 L643.4 137.3 L643.3 137.5 L643.2 137.7 L643.2 137.9 L643.1 138.1 L642.9 138.3 L642.8 138.4 L642.7 138.6 L642.6 138.7 L642.4 138.9 L642.3 139 L642.1 139.1 L642 139.2 L641.8 139.3 L641.6 139.4 L641.4 139.5 L641.2 139.6 L641 139.7 L640.8 139.7 L640.6 139.8 L640.3 139.8 L640.1 139.9 L639.7 139.8 L639.5 139.8 L639.3 139.9 L639 139.9 L638.8 140 L638.6 140 L638.4 140.1 L638.1 140.1 L637.9 140.2 L637.7 140.3 L637.6 140.3 L637.4 140.4 L637.2 140.5 L637.1 140.7 L636.9 140.8 L636.8 140.9 L636.7 141.1 L636.5 141.2 L636.4 141.4 L636.3 141.6 L636.2 141.8 L636.2 142 L636.1 142.2 L636 142.4 L635.9 142.7 L635.9 142.9 L635.8 143.1 L635.7 143.4 L635.8 143.7 L635.7 144 L635.6 144.2 L635.6 144.4 L635.5 144.6 L635.4 144.8 L635.3 145 L635.1 145.2 L635 145.4 L634.9 145.5 L634.7 145.7 L634.6 145.8 L634.4 146 L634.3 146.1 L634.1 146.2 L633.9 146.3 L633.8 146.4 L633.6 146.5 L633.4 146.6 L633.2 146.6 L633 146.7 L632.7 146.8 L632.5 146.8 L632.3 146.8 L632 146.8 L631.8 146.8 L631.5 146.7 L631.2 146.7 L631 146.7 L630.7 146.7 L630.5 146.7 L630.2 146.7 L630 146.8 L629.8 146.8 L629.6 146.8 L629.4 146.9 L629.2 146.9 L629 147 L628.8 147.1 L628.6 147.2 L628.4 147.3 L628.3 147.4 L628.1 147.6 L628 147.7 L627.9 147.9 L627.7 148 L627.6 148.2 L627.5 148.4 L627.4 148.6 L627.3 148.8 L627.2 149.1 L627.1 149.3 L627 149.5 L626.9 149.8 L626.9 150.1 L626.8 150.3 L626.7 150.5 L626.6 150.7 L626.4 150.9 L626.3 151.1 L626.2 151.3 L626 151.4 L625.9 151.6 L625.7 151.7 L625.5 151.8 L625.4 152 L625.2 152.1 L625 152.2 L624.8 152.3 L624.6 152.3 L624.4 152.4 L624.2 152.5 L624 152.5 L623.8 152.5 L623.6 152.6 L623.4 152.6 L623.1 152.6 L622.9 152.6 L622.7 152.5 L622.4 152.5 L622.1 152.3 L621.9 152.3 L621.6 152.3 L621.4 152.2 L621.2 152.2 L620.9 152.2 L620.7 152.2 L620.5 152.2 L620.3 152.2 L620.1 152.2 L619.9 152.2 L619.7 152.3 L619.5 152.3 L619.3 152.4 L619.1 152.5 L618.9 152.6 L618.8 152.7 L618.6 152.8 L618.5 153 L618.3 153.1 L618.2 153.3 L618 153.5 L617.9 153.7 L617.8 153.8 L617.6 154 L617.5 154.2 L617.4 154.4 L617.3 154.7 L617.2 155 L617.1 155.2 L616.9 155.4 L616.8 155.6 L616.7 155.8 L616.5 155.9 L616.3 156.1 L616.2 156.2 L616 156.3 L615.9 156.4 L615.7 156.5 L615.5 156.6 L615.3 156.7 L615.1 156.8 L614.9 156.9 L614.8 156.9 L614.6 156.9 L614.4 157 L614.2 157 L613.9 157 L613.7 157 L613.5 157 L613.3 157 L613.1 156.9 L612.9 156.9 L612.6 156.8 L612.4 156.7 L612.1 156.5 L611.9 156.4 L611.7 156.4 L611.5 156.3 L611.2 156.3 L611 156.2 L610.8 156.2 L610.6 156.1 L610.4 156.1 L610.2 156.1 L610 156.1 L609.8 156.1 L609.6 156.1 L609.4 156.1 L609.3 156.2 L609.1 156.2 L608.9 156.3 L608.7 156.4 L608.6 156.5 L608.4 156.6 L608.3 156.7 L608.1 156.8 L607.9 157 L607.8 157.1 L607.6 157.3 L607.5 157.5 L607.3 157.6 L607.2 157.8 L607 158 L606.9 158.2 L606.8 158.5 L606.6 158.6 L606.5 158.8 L606.3 158.9 L606.2 159.1 L606 159.2 L605.8 159.3 L605.7 159.4 L605.5 159.5 L605.3 159.6 L605.1 159.7 L605 159.7 L604.8 159.8 L604.6 159.8 L604.4 159.8 L604.2 159.9 L604 159.9 L603.9 159.9 L603.7 159.9 L603.5 159.8 L603.3 159.8 L603.1 159.8 L602.9 159.7 L602.7 159.7 L602.5 159.6 L602.3 159.5 L602.1 159.4 L601.9 159.3 L601.7 159.1 L601.5 158.9 L601.3 158.8 L601.1 158.7 L600.9 158.6 L600.8 158.5 L600.6 158.4 L600.4 158.3 L600.2 158.3 L600 158.2 L599.9 158.1 L599.7 158.1 L599.5 158 L599.3 158 L599.2 158 L599 158 L598.8 158 L598.7 158 L598.5 158.1 L598.3 158.1 L598.2 158.2 L598 158.2 L597.8 158.3 L597.7 158.4 L597.5 158.5 L597.4 158.6 L597.2 158.7 L597 158.8 L596.9 158.9 L596.7 159.1 L596.5 159.2 L596.4 159.3 L596.2 159.5 L596.1 159.7 L595.9 159.9 L595.7 160 L595.6 160.1 L595.4 160.2 L595.2 160.3 L595 160.4 L594.9 160.5 L594.7 160.5 L594.5 160.6 L594.4 160.6 L594.2 160.7 L594 160.7 L593.9 160.7 L593.7 160.7 L593.5 160.7 L593.4 160.7 L593.2 160.7 L593 160.7 L592.9 160.6 L592.7 160.6 L592.5 160.5 L592.4 160.5 L592.2 160.4 L592.1 160.3 L591.9 160.2 L591.8 160.1 L591.6 160 L591.5 159.9 L591.3 159.8 L591.2 159.6 L591 159.5 L590.9 159.2 L590.8 159 L590.6 158.9 L590.5 158.7 L590.4 158.6 L590.2 158.5 L590.1 158.3 L590 158.2 L589.8 158.1 L589.7 158 L589.6 157.8 L589.4 157.7 L589.3 157.7 L589.2 157.6 L589 157.5 L588.9 157.4 L588.8 157.4 L588.6 157.3 L588.5 157.3 L588.4 157.2 L588.2 157.2 L588.1 157.2 L587.9 157.2 L587.8 157.2 L587.6 157.3 L587.5 157.3 L587.3 157.3 L587.2 157.4 L587 157.4 L586.9 157.5 L586.7 157.5 L586.5 157.6 L586.4 157.7 L586.2 157.7 L586 157.8 L585.8 157.9 L585.7 158 L585.5 158.1 L585.3 158.3 L585.1 158.4 L584.9 158.5 L584.7 158.5 L584.6 158.6 L584.4 158.6 L584.2 158.7 L584 158.7 L583.9 158.7 L583.7 158.7 L583.6 158.7 L583.4 158.7 L583.3 158.7 L583.1 158.7 L582.9 158.7 L582.8 158.6 L582.7 158.6 L582.5 158.6 L582.4 158.5 L582.2 158.4 L582.1 158.4 L582 158.3 L581.9 158.2 L581.7 158.1 L581.6 158 L581.5 157.9 L581.4 157.8 L581.3 157.7 L581.2 157.6 L581.1 157.5 L581 157.3 L580.9 157.2 L580.9 157 L580.8 156.9 L580.7 156.7 L580.7 156.5 L580.6 156.3 L580.6 156.1 L580.6 155.8 L580.6 155.6 L580.5 155.5 L580.5 155.3 L580.4 155.1 L580.4 154.9 L580.4 154.8 L580.3 154.6 L580.3 154.4 L580.2 154.3 L580.2 154.1 L580.1 154 L580.1 153.8 L580 153.7 L580 153.6 L579.9 153.5 L579.8 153.3 L579.8 153.2 L579.7 153.1 L579.6 153.1 L579.5 153 L579.5 152.9 L579.4 152.8 L579.3 152.8 L579.2 152.7 L579.1 152.7 L578.9 152.6 L578.8 152.6 L578.7 152.5 L578.6 152.5 L578.4 152.5 L578.3 152.5 L578.1 152.5 L578 152.5 L577.8 152.5 L577.6 152.5 L577.5 152.5 L577.3 152.5 L577.1 152.5 L576.9 152.5 L576.8 152.5 L576.6 152.5 L576.4 152.5 L576.1 152.6 L575.9 152.7 L575.6 152.7 L575.5 152.7 L575.3 152.7 L575.1 152.6 L574.9 152.6 L574.7 152.6 L574.6 152.6 L574.4 152.5 L574.3 152.5 L574.1 152.4 L574 152.3 L573.8 152.3 L573.7 152.2 L573.6 152.1 L573.5 152 L573.4 152 L573.3 151.9 L573.2 151.8 L573.1 151.7 L573 151.5 L572.9 151.4 L572.8 151.3 L572.8 151.2 L572.7 151.1 L572.6 150.9 L572.6 150.8 L572.6 150.7 L572.5 150.5 L572.5 150.4 L572.5 150.2 L572.5 150.1 L572.5 149.9 L572.5 149.7 L572.6 149.6 L572.6 149.4 L572.6 149.2 L572.7 149 L572.8 148.9 L572.9 148.7 L573 148.5 L573.1 148.3 L573.3 148 L573.4 147.8 L573.5 147.6" fill="none" stroke="#1d1d1d" stroke-width="2" />
<path d="M652.8 96.9 L652.9 97 L653 97.1 L653.1 97.2 L653.3 97.3 L653.4 97.4 L653.5 97.5 L653.5 97.6 L653.6 97.7 L653.7 97.8 L653.8 97.9 L653.8 98 L653.9 98.2 L653.9 98.3" fill="none" stroke="#1d1d1d" stroke-width="2" />
<ellipse cx="614.7" cy="122.7" rx="6.6" ry="4.2" transform="rotate(-24 614.7 122.7)" fill="none" stroke="#1d1d1d" stroke-width="2"/>
<ellipse cx="600" cy="124.6" rx="4.3" ry="2.4" transform="rotate(-24 600 124.6)" fill="none" stroke="#1d1d1d" stroke-width="1.6"/>
<ellipse cx="629.6" cy="121" rx="4.3" ry="2.4" transform="rotate(-24 629.6 121)" fill="none" stroke="#1d1d1d" stroke-width="1.6"/>
<ellipse cx="682.4" cy="155.1" rx="17.1" ry="8.3" transform="rotate(-62 682.4 155.1)" fill="#fff" stroke="#1d1d1d" stroke-width="1.3"/>
<ellipse cx="685.4" cy="154.8" rx="17.1" ry="8.3" transform="rotate(-62 685.4 154.8)" fill="#fff" stroke="#1d1d1d" stroke-width="1.4"/>
<ellipse cx="685.8" cy="155.5" rx="9.6" ry="3.3" transform="rotate(-62 685.8 155.5)" fill="#fff" stroke="#1d1d1d" stroke-width="2.2"/>
<path d="M740.9 180.9 L714.9 164.1 L714.6 163.9 L714.2 163.9 L713.8 163.9 L713.4 164.1 L712.9 164.3 L712.4 164.6 L711.9 165 L711.4 165.4 L710.8 165.9 L710.3 166.5 L709.9 167.1 L709.4 167.8 L709 168.5 L708.6 169.2 L708.3 169.9 L708.1 170.5 L707.9 171.2 L707.7 171.8 L707.6 172.4 L707.6 172.9 L707.7 173.4 L707.8 173.8 L708 174.1 L708.3 174.3 L734.3 191.1" fill="#fff" stroke="#1d1d1d" stroke-width="1.3" />
<path d="M709.3 175 L708.9 174.5 L708.7 173.9 L708.7 173 L708.8 171.9 L709.2 170.8 L709.7 169.6 L710.4 168.4 L711.2 167.3 L712.1 166.4 L713 165.5 L713.8 165 L714.6 164.6 L715.3 164.5 L715.9 164.7" fill="none" stroke="#3a3a3a" stroke-width="1" />
<path d="M711.3 176.3 L710.9 175.8 L710.7 175.1 L710.7 174.3 L710.8 173.2 L711.2 172.1 L711.7 170.9 L712.4 169.7 L713.2 168.6 L714.1 167.6 L715 166.8 L715.8 166.3 L716.6 165.9 L717.3 165.8 L717.9 166" fill="none" stroke="#3a3a3a" stroke-width="1" />
<path d="M713.3 177.6 L712.9 177.1 L712.7 176.4 L712.7 175.6 L712.8 174.5 L713.2 173.4 L713.7 172.2 L714.4 171 L715.2 169.9 L716.1 168.9 L717 168.1 L717.8 167.5 L718.6 167.2 L719.3 167.1 L719.9 167.3" fill="none" stroke="#3a3a3a" stroke-width="1" />
<path d="M715.3 178.8 L714.9 178.4 L714.7 177.7 L714.7 176.8 L714.8 175.8 L715.2 174.7 L715.7 173.5 L716.4 172.3 L717.2 171.2 L718.1 170.2 L719 169.4 L719.8 168.8 L720.6 168.5 L721.3 168.4 L721.9 168.6" fill="none" stroke="#3a3a3a" stroke-width="1" />
<path d="M717.3 180.1 L716.9 179.7 L716.7 179 L716.7 178.1 L716.8 177.1 L717.2 176 L717.7 174.8 L718.4 173.6 L719.2 172.5 L720.1 171.5 L721 170.7 L721.8 170.1 L722.6 169.8 L723.3 169.7 L723.9 169.9" fill="none" stroke="#3a3a3a" stroke-width="1" />
<path d="M719.3 181.4 L718.9 181 L718.7 180.3 L718.7 179.4 L718.8 178.4 L719.2 177.3 L719.7 176.1 L720.4 174.9 L721.2 173.8 L722.1 172.8 L723 172 L723.8 171.4 L724.6 171.1 L725.3 171 L725.9 171.2" fill="none" stroke="#3a3a3a" stroke-width="1" />
<path d="M721.3 182.7 L720.9 182.3 L720.7 181.6 L720.7 180.7 L720.8 179.7 L721.2 178.6 L721.7 177.4 L722.4 176.2 L723.2 175.1 L724.1 174.1 L725 173.3 L725.8 172.7 L726.6 172.4 L727.3 172.3 L727.9 172.5" fill="none" stroke="#3a3a3a" stroke-width="1" />
<path d="M723.3 184 L722.9 183.6 L722.7 182.9 L722.7 182 L722.8 181 L723.2 179.8 L723.7 178.7 L724.4 177.5 L725.2 176.4 L726.1 175.4 L727 174.6 L727.8 174 L728.6 173.7 L729.3 173.6 L729.9 173.8" fill="none" stroke="#3a3a3a" stroke-width="1" />
<path d="M725.3 185.3 L724.9 184.9 L724.7 184.2 L724.7 183.3 L724.8 182.3 L725.2 181.1 L725.7 179.9 L726.4 178.8 L727.2 177.7 L728.1 176.7 L729 175.9 L729.8 175.3 L730.6 175 L731.3 174.9 L731.9 175.1" fill="none" stroke="#3a3a3a" stroke-width="1" />
<path d="M727.3 186.6 L726.9 186.2 L726.7 185.5 L726.7 184.6 L726.8 183.6 L727.2 182.4 L727.7 181.2 L728.4 180.1 L729.2 179 L730.1 178 L731 177.2 L731.8 176.6 L732.6 176.2 L733.3 176.2 L733.9 176.4" fill="none" stroke="#3a3a3a" stroke-width="1" />
<path d="M729.3 187.9 L728.9 187.5 L728.7 186.8 L728.7 185.9 L728.8 184.9 L729.2 183.7 L729.7 182.5 L730.4 181.4 L731.2 180.3 L732.1 179.3 L733 178.5 L733.8 177.9 L734.6 177.5 L735.3 177.5 L735.9 177.6" fill="none" stroke="#3a3a3a" stroke-width="1" />
<path d="M731.3 189.2 L730.9 188.7 L730.7 188.1 L730.7 187.2 L730.8 186.2 L731.2 185 L731.7 183.8 L732.4 182.7 L733.2 181.5 L734.1 180.6 L735 179.8 L735.8 179.2 L736.6 178.8 L737.3 178.8 L737.9 178.9" fill="none" stroke="#3a3a3a" stroke-width="1" />
<path d="M733.3 190.5 L732.9 190 L732.7 189.4 L732.7 188.5 L732.8 187.4 L733.2 186.3 L733.7 185.1 L734.4 183.9 L735.2 182.8 L736.1 181.9 L737 181.1 L737.8 180.5 L738.6 180.1 L739.3 180 L739.9 180.2" fill="none" stroke="#3a3a3a" stroke-width="1" />
<ellipse cx="740.4" cy="189.4" rx="15.6" ry="5.2" transform="rotate(-47 740.4 189.4)" fill="#fff" stroke="#1d1d1d" stroke-width="1.3"/>
<ellipse cx="742.8" cy="190.8" rx="15.2" ry="5" transform="rotate(-47 742.8 190.8)" fill="#fff" stroke="#1d1d1d" stroke-width="1.3"/>
<path d="M746.5 185.2 L751.2 183.7 L756.9 187.3 L755.6 194.1 L750.3 201.8 L741.8 206.1 L737 202.7 L737.5 195Z" fill="#fff" stroke="#1d1d1d" stroke-width="1.3" />
<path d="M746.5 185.2 L749.5 189.9 L756.9 187.3" fill="none" stroke="#1d1d1d" stroke-width="1.3" />
<path d="M737.5 195 L742.2 197.5 L741.8 206.1" fill="none" stroke="#1d1d1d" stroke-width="1.3" />
<path d="M749.5 189.9 L742.2 197.5" fill="none" stroke="#1d1d1d" stroke-width="1.3" />
<path d="M701.2 298.4 L675.2 282.6 L674.9 282.5 L674.4 282.4 L674 282.5 L673.5 282.6 L672.9 282.9 L672.4 283.3 L671.8 283.7 L671.2 284.3 L670.6 284.9 L670.1 285.5 L669.5 286.3 L669 287 L668.6 287.8 L668.2 288.6 L667.8 289.4 L667.6 290.2 L667.4 291 L667.2 291.7 L667.2 292.4 L667.2 293 L667.3 293.5 L667.4 294 L667.7 294.3 L668 294.6 L694 310.4" fill="#fff" stroke="#1d1d1d" stroke-width="1.3" />
<path d="M669.9 295.8 L669.4 295.3 L669.1 294.5 L669.1 293.5 L669.2 292.3 L669.6 291 L670.2 289.6 L670.9 288.3 L671.8 287 L672.8 285.8 L673.8 284.9 L674.7 284.2 L675.7 283.7 L676.5 283.6 L677.1 283.8" fill="none" stroke="#3a3a3a" stroke-width="1" />
<path d="M671.9 297 L671.4 296.5 L671.1 295.7 L671.1 294.7 L671.2 293.5 L671.6 292.2 L672.2 290.8 L672.9 289.5 L673.8 288.2 L674.8 287 L675.8 286.1 L676.7 285.4 L677.7 285 L678.5 284.8 L679.1 285" fill="none" stroke="#3a3a3a" stroke-width="1" />
<path d="M673.9 298.2 L673.4 297.7 L673.1 297 L673.1 296 L673.3 294.8 L673.6 293.4 L674.2 292.1 L675 290.7 L675.8 289.4 L676.8 288.2 L677.8 287.3 L678.8 286.6 L679.7 286.2 L680.5 286.1 L681.1 286.3" fill="none" stroke="#3a3a3a" stroke-width="1" />
<path d="M675.9 299.4 L675.4 298.9 L675.1 298.2 L675.1 297.2 L675.3 296 L675.6 294.7 L676.2 293.3 L677 291.9 L677.8 290.6 L678.8 289.5 L679.8 288.5 L680.8 287.8 L681.7 287.4 L682.5 287.3 L683.2 287.5" fill="none" stroke="#3a3a3a" stroke-width="1" />
<path d="M677.9 300.7 L677.4 300.2 L677.2 299.4 L677.1 298.4 L677.3 297.2 L677.7 295.9 L678.2 294.5 L679 293.1 L679.8 291.8 L680.8 290.7 L681.8 289.7 L682.8 289 L683.7 288.6 L684.5 288.5 L685.2 288.7" fill="none" stroke="#3a3a3a" stroke-width="1" />
<path d="M679.9 301.9 L679.4 301.4 L679.2 300.6 L679.1 299.6 L679.3 298.4 L679.7 297.1 L680.2 295.7 L681 294.3 L681.9 293 L682.8 291.9 L683.8 290.9 L684.8 290.2 L685.7 289.8 L686.5 289.7 L687.2 289.9" fill="none" stroke="#3a3a3a" stroke-width="1" />
<path d="M681.9 303.1 L681.4 302.6 L681.2 301.8 L681.1 300.8 L681.3 299.6 L681.7 298.3 L682.2 296.9 L683 295.6 L683.9 294.3 L684.8 293.1 L685.8 292.2 L686.8 291.5 L687.7 291 L688.5 290.9 L689.2 291.1" fill="none" stroke="#3a3a3a" stroke-width="1" />
<path d="M683.9 304.3 L683.5 303.8 L683.2 303 L683.1 302 L683.3 300.8 L683.7 299.5 L684.3 298.1 L685 296.8 L685.9 295.5 L686.8 294.3 L687.8 293.4 L688.8 292.7 L689.7 292.3 L690.5 292.1 L691.2 292.3" fill="none" stroke="#3a3a3a" stroke-width="1" />
<path d="M685.9 305.5 L685.5 305 L685.2 304.3 L685.1 303.3 L685.3 302.1 L685.7 300.7 L686.3 299.4 L687 298 L687.9 296.7 L688.8 295.5 L689.8 294.6 L690.8 293.9 L691.7 293.5 L692.5 293.4 L693.2 293.6" fill="none" stroke="#3a3a3a" stroke-width="1" />
<path d="M688 306.7 L687.5 306.2 L687.2 305.5 L687.1 304.5 L687.3 303.3 L687.7 302 L688.3 300.6 L689 299.2 L689.9 297.9 L690.8 296.8 L691.8 295.8 L692.8 295.1 L693.7 294.7 L694.5 294.6 L695.2 294.8" fill="none" stroke="#3a3a3a" stroke-width="1" />
<path d="M690 308 L689.5 307.5 L689.2 306.7 L689.2 305.7 L689.3 304.5 L689.7 303.2 L690.3 301.8 L691 300.4 L691.9 299.1 L692.8 298 L693.8 297 L694.8 296.3 L695.7 295.9 L696.6 295.8 L697.2 296" fill="none" stroke="#3a3a3a" stroke-width="1" />
<path d="M692 309.2 L691.5 308.7 L691.2 307.9 L691.2 306.9 L691.3 305.7 L691.7 304.4 L692.3 303 L693 301.6 L693.9 300.3 L694.9 299.2 L695.9 298.2 L696.8 297.5 L697.8 297.1 L698.6 297 L699.2 297.2" fill="none" stroke="#3a3a3a" stroke-width="1" />
<path d="M702.6 297 L709.5 301.2 L701.2 315.1 L692.8 311.9Z" fill="#fff" stroke="#1d1d1d" stroke-width="1.3" />
<path d="M709.5 301.2 L717.2 297 L725.9 302.9 L725.9 312.3 L717.9 324.2 L708.8 329.8 L700.5 324.2 L701.2 315.1Z" fill="#fff" stroke="#1d1d1d" stroke-width="1.4" />
<path d="M709.5 301.2 L716.9 307.4 L725.9 302.9" fill="none" stroke="#1d1d1d" stroke-width="1.4" />
<path d="M701.2 315.1 L708.8 319.7 L708.8 329.8" fill="none" stroke="#1d1d1d" stroke-width="1.4" />
<path d="M716.9 307.4 L708.8 319.7" fill="none" stroke="#1d1d1d" stroke-width="1.4" />
<path d="M844.1 256.3 L849.2 253 L847 258.7 L847.8 259.9 L853.5 258.7 L849.4 263.5 L849.7 265.1 L855.3 266.2 L849.8 269.6 L849.6 271.4 L854.4 274.6 L848.2 276.2 L847.4 278 L850.9 282.9 L844.7 282.5 L843.5 284.1 L845.2 290.1 L839.8 287.7 L838.3 288.9 L838.1 295.3 L834.1 291.2 L832.4 291.8 L830.2 297.9 L828.1 292.6 L826.6 292.6 L822.7 297.6 L822.8 291.8 L821.5 291.1 L816.4 294.4 L818.6 288.7 L817.8 287.5 L812.1 288.7 L816.2 283.9 L815.9 282.3 L810.3 281.2 L815.8 277.8 L816 276 L811.2 272.8 L817.4 271.2 L818.2 269.4 L814.7 264.5 L820.9 264.9 L822.1 263.3 L820.4 257.3 L825.8 259.7 L827.3 258.5 L827.5 252.1 L831.5 256.2 L833.2 255.6 L835.4 249.5 L837.5 254.8 L839 254.8 L842.9 249.8 L842.8 255.6Z" fill="#fff" stroke="#1d1d1d" stroke-width="1.8" />
<ellipse cx="832.8" cy="273.7" rx="21.8" ry="15.8" transform="rotate(-54 832.8 273.7)" fill="#fff" stroke="#1d1d1d" stroke-width="1.2"/>
<ellipse cx="834.8" cy="273.2" rx="21.8" ry="15.8" transform="rotate(-54 834.8 273.2)" fill="#fff" stroke="#1d1d1d" stroke-width="1.5"/>
<ellipse cx="834.3" cy="272.9" rx="13.4" ry="8.6" transform="rotate(-54 834.3 272.9)" fill="#fff" stroke="#1d1d1d" stroke-width="2"/>
<ellipse cx="834" cy="273.2" rx="4.4" ry="3" transform="rotate(-54 834 273.2)" fill="#fff" stroke="#1d1d1d" stroke-width="2"/>
<ellipse cx="631.1" cy="378" rx="33.4" ry="16.3" transform="rotate(-62 631.1 378)" fill="#fff" stroke="#1d1d1d" stroke-width="1.5"/>
<ellipse cx="633.1" cy="378.2" rx="33.4" ry="16.3" transform="rotate(-62 633.1 378.2)" fill="#fff" stroke="#1d1d1d" stroke-width="0.8"/>
<ellipse cx="635" cy="378.4" rx="33.4" ry="16.3" transform="rotate(-62 635 378.4)" fill="#fff" stroke="#1d1d1d" stroke-width="0.8"/>
<ellipse cx="637" cy="378.6" rx="33.4" ry="16.3" transform="rotate(-62 637 378.6)" fill="#fff" stroke="#1d1d1d" stroke-width="0.8"/>
<ellipse cx="638.9" cy="378.8" rx="33.4" ry="16.3" transform="rotate(-62 638.9 378.8)" fill="#fff" stroke="#1d1d1d" stroke-width="0.8"/>
<ellipse cx="640.9" cy="379" rx="33.4" ry="16.3" transform="rotate(-62 640.9 379)" fill="#fff" stroke="#1d1d1d" stroke-width="1.4"/>
<ellipse cx="641.1" cy="379.1" rx="30.6" ry="14.6" transform="rotate(-62 641.1 379.1)" fill="#fff" stroke="#1d1d1d" stroke-width="0.9"/>
<ellipse cx="641.3" cy="379.2" rx="27.6" ry="13.2" transform="rotate(-62 641.3 379.2)" fill="#fff" stroke="#1d1d1d" stroke-width="0.9"/>
<ellipse cx="640.3" cy="380.4" rx="23.4" ry="11.6" transform="rotate(-62 640.3 380.4)" fill="#fff" stroke="#1d1d1d" stroke-width="1.3"/>
<ellipse cx="641.3" cy="382" rx="7" ry="4.8" transform="rotate(-54 641.3 382)" fill="#fff" stroke="#1d1d1d" stroke-width="1.2"/>
<ellipse cx="641.5" cy="382.1" rx="4.6" ry="3" transform="rotate(-54 641.5 382.1)" fill="#fff" stroke="#1d1d1d" stroke-width="1"/>
<ellipse cx="641.7" cy="382.2" rx="2.8" ry="1.7" transform="rotate(-54 641.7 382.2)" fill="#fff" stroke="#1d1d1d" stroke-width="1.3"/>
<path d="M687.4 410.4 C687.3 409.7 687.5 407.5 687 406.2 C686.5 404.9 685.7 403.4 684.3 402.4 C682.9 401.4 680.4 400.3 678.6 400.2 C676.8 400.1 675.2 400.7 673.6 401.6 C672 402.5 670.3 403.8 669 405.6 C667.7 407.4 666.4 409.9 665.8 412.4 C665.2 414.9 664.9 417.5 665.6 420.6 C666.3 423.7 668.2 427.5 670.1 431 C672 434.5 674.8 438.7 677.1 441.5 C679.4 444.3 681.4 446.2 684.1 447.9 C686.8 449.5 690.8 450.3 693.4 451.4 C696 452.5 698.2 453 700 454.4 C701.8 455.8 703.1 457.7 704 460 C704.9 462.3 705.1 464.8 705.6 468 C706.1 471.2 706.1 475.9 707 479.1 C707.9 482.4 709.2 485.1 711 487.5 C712.8 489.9 715.4 492 717.9 493.7 C720.4 495.4 724.9 497.2 726.3 497.9 L726.3 497.9 C728.8 497.5 736.5 496.6 741.6 495.8 C746.7 495 751.6 494.3 757 493 C762.4 491.7 768.7 489.9 773.8 488.2 C778.9 486.5 784.4 483.9 787.7 482.6 C791 481.3 792.2 480.9 793.4 480.2 C794.6 479.5 794.8 478.9 794.9 478.2 C795 477.5 794.6 476.9 794 476 C793.4 475.1 792.5 473.9 791 472.6 C789.5 471.3 787.6 469 785.2 468 C782.8 467 779.3 466.1 776.5 466.4 C773.7 466.7 771 468.2 768.2 469.6 C765.5 471 761.4 474.1 760 475 L760 475 C757.5 472.8 749.3 465.5 745 461.9 C740.7 458.2 738.2 456.5 734.1 453.1 C730 449.7 724.2 444.8 720.1 441.5 C716 438.2 712.6 435.3 709.7 433.4 C706.8 431.5 705 430.8 702.7 429.9 C700.4 429 697.4 428.9 695.9 428.2 C694.4 427.5 694 426 693.6 425.6Z" fill="#fff" stroke="none" stroke-width="0" />
<path d="M687.4 410.4 C687.3 409.7 687.5 407.5 687 406.2 C686.5 404.9 685.7 403.4 684.3 402.4 C682.9 401.4 680.4 400.3 678.6 400.2 C676.8 400.1 675.2 400.7 673.6 401.6 C672 402.5 670.3 403.8 669 405.6 C667.7 407.4 666.4 409.9 665.8 412.4 C665.2 414.9 664.9 417.5 665.6 420.6 C666.3 423.7 668.2 427.5 670.1 431 C672 434.5 674.8 438.7 677.1 441.5 C679.4 444.3 681.4 446.2 684.1 447.9 C686.8 449.5 690.8 450.3 693.4 451.4 C696 452.5 698.2 453 700 454.4 C701.8 455.8 703.1 457.7 704 460 C704.9 462.3 705.1 464.8 705.6 468 C706.1 471.2 706.1 475.9 707 479.1 C707.9 482.4 709.2 485.1 711 487.5 C712.8 489.9 715.4 492 717.9 493.7 C720.4 495.4 724.9 497.2 726.3 497.9" fill="none" stroke="#1d1d1d" stroke-width="1.5" />
<path d="M726.3 497.9 C728.8 497.5 736.5 496.6 741.6 495.8 C746.7 495 751.6 494.3 757 493 C762.4 491.7 768.7 489.9 773.8 488.2 C778.9 486.5 784.4 483.9 787.7 482.6 C791 481.3 792.2 480.9 793.4 480.2 C794.6 479.5 794.8 478.9 794.9 478.2 C795 477.5 794.6 476.9 794 476 C793.4 475.1 792.5 473.9 791 472.6 C789.5 471.3 787.6 469 785.2 468 C782.8 467 779.3 466.1 776.5 466.4 C773.7 466.7 771 468.2 768.2 469.6 C765.5 471 761.4 474.1 760 475" fill="none" stroke="#1d1d1d" stroke-width="1.5" />
<path d="M760 475 C757.5 472.8 749.3 465.5 745 461.9 C740.7 458.2 738.2 456.5 734.1 453.1 C730 449.7 724.2 444.8 720.1 441.5 C716 438.2 712.6 435.3 709.7 433.4 C706.8 431.5 705 430.8 702.7 429.9 C700.4 429 697.4 428.9 695.9 428.2 C694.4 427.5 694 426 693.6 425.6" fill="none" stroke="#1d1d1d" stroke-width="1.5" />
<path d="M680 401 C679.2 401.4 676.4 402.3 675 403.4 C673.6 404.5 672.3 405.8 671.4 407.4 C670.5 409 669.6 410.4 669.5 412.8 C669.4 415.2 669.7 418.7 670.7 421.7 C671.7 424.7 673.5 427.9 675.3 431 C677.1 434.1 679.7 437.9 681.7 440.3 C683.8 442.7 685.3 444.4 687.6 445.6 C689.9 446.8 693.2 446.4 695.7 447.3 C698.2 448.2 700.7 449.1 702.7 450.8 C704.7 452.5 706.5 455.2 707.6 457.4 C708.8 459.6 709 461.6 709.6 464 C710.2 466.4 710 468.7 711 472.1 C712 475.6 714.1 481.1 715.8 484.7 C717.5 488.3 719.6 491.8 721.4 494 C723.1 496.2 725.5 497.2 726.3 497.9" fill="none" stroke="#1d1d1d" stroke-width="1.3" />
<path d="M704.6 458.4 C705.1 459.5 706.6 462 707.4 465 C708.2 468 708.3 472.8 709.3 476.3 C710.3 479.8 711.8 483.2 713.5 486.1 C715.2 489.1 718.6 492.7 719.6 494" fill="none" stroke="#1d1d1d" stroke-width="1" />
<line x1="695.1" y1="428.7" x2="689" y2="445.6" stroke="#1d1d1d" stroke-width="1.3"/>
<line x1="702.4" y1="430.5" x2="696.9" y2="446.2" stroke="#1d1d1d" stroke-width="1.3"/>
<path d="M694.4 410.4 L680.8 409.7 L680.1 409.7 L679.4 409.9 L678.7 410.2 L678 410.6 L677.4 411.1 L676.9 411.7 L676.4 412.5 L675.9 413.3 L675.6 414.1 L675.3 415.1 L675.1 416 L675 417 L675 418 L675.1 419 L675.3 419.9 L675.5 420.9 L675.9 421.7 L676.3 422.5 L676.8 423.2 L677.4 423.7 L678 424.2 L678.6 424.6 L679.3 424.8 L680 424.9 L693.6 425.6" fill="#fff" stroke="#1d1d1d" stroke-width="1.4" />
<ellipse cx="694" cy="418" rx="7.6" ry="5.4" transform="rotate(-87.1 694 418)" fill="#fff" stroke="#1d1d1d" stroke-width="1.4"/>
<path d="M725.5 461.6 L726.3 461.3 L727.2 461.2 L728.1 461.2 L729 461.4 L729.9 461.7 L730.8 462.2 L731.6 462.9 L732.4 463.7 L733.2 464.6 L733.9 465.6 L734.5 466.7 L735 467.9 L735.4 469.2 L735.8 470.5 L736 471.8 L736.2 473.2 L736.2 474.6 L736.1 475.9 L736 477.2 L735.7 478.4 L735.3 479.6 L734.8 480.7 L734.3 481.6 L733.6 482.5 L732.9 483.2 L732.2 483.8 L731.3 484.2 L730.5 484.5 L729.6 484.6 L728.7 484.6" fill="none" stroke="#1d1d1d" stroke-width="1" />
<ellipse cx="727" cy="472.8" rx="7.6" ry="11.8" transform="rotate(-8 727 472.8)" fill="#fff" stroke="#1d1d1d" stroke-width="1.4"/>
<path d="M837 498.8 L815.7 486.2 L814.6 485.6 L813.5 485.3 L812.2 485.1 L811 485.1 L809.7 485.3 L808.4 485.7 L807.2 486.2 L806 486.9 L804.9 487.8 L803.8 488.8 L802.9 489.9 L802.1 491.1 L801.4 492.4 L800.9 493.8 L800.5 495.2 L800.3 496.6 L800.2 498 L800.4 499.3 L800.7 500.6 L801.1 501.8 L801.7 502.9 L802.4 503.9 L803.3 504.7 L804.3 505.4 L825.6 518" fill="#fff" stroke="#1d1d1d" stroke-width="1.4" />
<ellipse cx="831.3" cy="508.4" rx="11.2" ry="9.2" transform="rotate(-59.4 831.3 508.4)" fill="#fff" stroke="#1d1d1d" stroke-width="1.4"/>
<ellipse cx="831.3" cy="508.4" rx="6" ry="5.4" transform="rotate(-59.4 831.3 508.4)" fill="#fff" stroke="#1d1d1d" stroke-width="1.6"/>
<ellipse cx="854.3" cy="529" rx="17.1" ry="8.3" transform="rotate(-62 854.3 529)" fill="#fff" stroke="#1d1d1d" stroke-width="1.3"/>
<ellipse cx="857.3" cy="528.7" rx="17.1" ry="8.3" transform="rotate(-62 857.3 528.7)" fill="#fff" stroke="#1d1d1d" stroke-width="1.4"/>
<ellipse cx="857.7" cy="529.4" rx="9.6" ry="3.3" transform="rotate(-62 857.7 529.4)" fill="#fff" stroke="#1d1d1d" stroke-width="2.2"/>
<path d="M919.8 561 L881.6 541.1 L881.2 541 L880.8 540.9 L880.3 541 L879.8 541.2 L879.2 541.5 L878.7 541.9 L878.1 542.3 L877.6 542.9 L877 543.6 L876.5 544.3 L876 545 L875.6 545.8 L875.2 546.6 L874.8 547.5 L874.5 548.3 L874.3 549.1 L874.2 549.9 L874.1 550.6 L874.1 551.3 L874.2 551.9 L874.3 552.5 L874.5 552.9 L874.8 553.3 L875.2 553.5 L913.4 573.4" fill="#fff" stroke="#1d1d1d" stroke-width="1.4" />
<path d="M903 568.1 L902.5 567.6 L902.2 566.9 L902.1 565.9 L902.2 564.7 L902.5 563.3 L903 561.9 L903.6 560.5 L904.4 559.1 L905.3 557.9 L906.2 556.9 L907.2 556.2 L908.1 555.7 L908.9 555.5 L909.5 555.7" fill="none" stroke="#2a2a2a" stroke-width="1.3" />
<path d="M905.6 569.4 L905.1 569 L904.8 568.2 L904.7 567.2 L904.8 566 L905.1 564.7 L905.6 563.3 L906.2 561.8 L907 560.5 L907.9 559.3 L908.8 558.3 L909.8 557.5 L910.6 557 L911.4 556.9 L912.1 557" fill="none" stroke="#2a2a2a" stroke-width="1.3" />
<path d="M908.2 570.8 L907.7 570.3 L907.4 569.6 L907.3 568.6 L907.4 567.4 L907.7 566 L908.1 564.6 L908.8 563.2 L909.6 561.8 L910.5 560.6 L911.4 559.6 L912.3 558.9 L913.2 558.4 L914 558.2 L914.7 558.4" fill="none" stroke="#2a2a2a" stroke-width="1.3" />
<path d="M910.8 572.1 L910.3 571.7 L910 570.9 L909.8 569.9 L909.9 568.7 L910.2 567.4 L910.7 566 L911.4 564.5 L912.2 563.2 L913.1 562 L914 561 L914.9 560.2 L915.8 559.7 L916.6 559.6 L917.3 559.7" fill="none" stroke="#2a2a2a" stroke-width="1.3" />
<path d="M913.4 573.5 L912.9 573 L912.6 572.3 L912.4 571.3 L912.5 570.1 L912.8 568.7 L913.3 567.3 L914 565.9 L914.8 564.5 L915.6 563.3 L916.6 562.3 L917.5 561.6 L918.4 561.1 L919.2 560.9 L919.9 561.1" fill="none" stroke="#2a2a2a" stroke-width="1.3" />
<path d="M916 574.8 L915.5 574.4 L915.1 573.6 L915 572.6 L915.1 571.4 L915.4 570.1 L915.9 568.7 L916.5 567.2 L917.3 565.9 L918.2 564.7 L919.2 563.7 L920.1 562.9 L921 562.4 L921.8 562.3 L922.5 562.4" fill="none" stroke="#2a2a2a" stroke-width="1.3" />
<ellipse cx="923.4" cy="572.4" rx="20.6" ry="6.6" transform="rotate(-55 923.4 572.4)" fill="#fff" stroke="#1d1d1d" stroke-width="1.4"/>
<ellipse cx="926.2" cy="574" rx="19.8" ry="6.4" transform="rotate(-55 926.2 574)" fill="#fff" stroke="#1d1d1d" stroke-width="1.4"/>
<path d="M926.6 565.4 L935.4 560.1 L943.7 564.3 L944.1 574.1 L937.8 585.6 L928.4 592.2 L920 588 L920.7 577.9Z" fill="#fff" stroke="#1d1d1d" stroke-width="1.4" />
<path d="M926.6 565.4 L934.7 569.2 L943.7 564.3" fill="none" stroke="#1d1d1d" stroke-width="1.4" />
<path d="M920.7 577.9 L928.4 582.1 L928.4 592.2" fill="none" stroke="#1d1d1d" stroke-width="1.4" />
<path d="M934.7 569.2 L928.4 582.1" fill="none" stroke="#1d1d1d" stroke-width="1.4" />
<path d="M523.2 533.9 L501.6 522.3 L500.5 521.8 L499.4 521.5 L498.2 521.4 L496.9 521.5 L495.7 521.7 L494.5 522.1 L493.3 522.7 L492.1 523.5 L491.1 524.4 L490.1 525.4 L489.2 526.5 L488.5 527.7 L487.9 529 L487.4 530.4 L487.1 531.8 L486.9 533.2 L486.9 534.5 L487.1 535.8 L487.4 537.1 L487.9 538.3 L488.6 539.3 L489.3 540.3 L490.2 541.1 L491.2 541.7 L512.8 553.3" fill="#fff" stroke="#1d1d1d" stroke-width="1.4" />
<ellipse cx="518" cy="543.6" rx="11" ry="9" transform="rotate(-61.8 518 543.6)" fill="#fff" stroke="#1d1d1d" stroke-width="1.4"/>
<ellipse cx="518" cy="543.6" rx="6.2" ry="5.6" transform="rotate(-61.8 518 543.6)" fill="#fff" stroke="#1d1d1d" stroke-width="1.6"/>
<ellipse cx="537.7" cy="564.1" rx="17.1" ry="8.3" transform="rotate(-62 537.7 564.1)" fill="#fff" stroke="#1d1d1d" stroke-width="1.3"/>
<ellipse cx="540.7" cy="563.8" rx="17.1" ry="8.3" transform="rotate(-62 540.7 563.8)" fill="#fff" stroke="#1d1d1d" stroke-width="1.4"/>
<ellipse cx="541.1" cy="564.5" rx="9.6" ry="3.3" transform="rotate(-62 541.1 564.5)" fill="#fff" stroke="#1d1d1d" stroke-width="2.2"/>
<line x1="401" y1="35.8" x2="417.6" y2="35.8" stroke="#1d1d1d" stroke-width="1.4"/>
<line x1="356.6" y1="116.6" x2="382.4" y2="116.6" stroke="#1d1d1d" stroke-width="1.4"/>
<line x1="294" y1="275" x2="323" y2="275" stroke="#1d1d1d" stroke-width="1.4"/>
<line x1="253.6" y1="378.4" x2="276" y2="378.4" stroke="#1d1d1d" stroke-width="1.4"/>
<line x1="237" y1="424.4" x2="257.4" y2="424.4" stroke="#1d1d1d" stroke-width="1.4"/>
<line x1="204.6" y1="540.5" x2="225" y2="540.5" stroke="#1d1d1d" stroke-width="1.4"/>
<line x1="353.5" y1="485.4" x2="372.5" y2="485.4" stroke="#1d1d1d" stroke-width="1.4"/>
<line x1="487" y1="188" x2="511.5" y2="188" stroke="#1d1d1d" stroke-width="1.4"/>
<line x1="614.4" y1="156.4" x2="614.4" y2="175" stroke="#1d1d1d" stroke-width="1.4"/>
<line x1="678.9" y1="169.6" x2="678.9" y2="191.5" stroke="#1d1d1d" stroke-width="1.4"/>
<line x1="727.3" y1="156.5" x2="727.3" y2="172.6" stroke="#1d1d1d" stroke-width="1.4"/>
<line x1="704.9" y1="274.4" x2="704.9" y2="296.8" stroke="#1d1d1d" stroke-width="1.4"/>
<line x1="799.1" y1="276.2" x2="813" y2="276.2" stroke="#1d1d1d" stroke-width="1.4"/>
<line x1="623.6" y1="411.4" x2="623.6" y2="429.8" stroke="#1d1d1d" stroke-width="1.4"/>
<line x1="741.9" y1="495.6" x2="741.9" y2="516.5" stroke="#1d1d1d" stroke-width="1.4"/>
<line x1="807.7" y1="510.7" x2="807.7" y2="531.8" stroke="#1d1d1d" stroke-width="1.4"/>
<line x1="846.6" y1="543.2" x2="846.6" y2="564" stroke="#1d1d1d" stroke-width="1.4"/>
<line x1="934.7" y1="531" x2="934.7" y2="554.2" stroke="#1d1d1d" stroke-width="1.4"/>
<line x1="491.1" y1="544.1" x2="491.1" y2="561.3" stroke="#1d1d1d" stroke-width="1.4"/>
<line x1="546.8" y1="527.4" x2="546.8" y2="549" stroke="#1d1d1d" stroke-width="1.4"/>
<text x="390.6" y="43.8" font-size="19.7" text-anchor="middle" transform="rotate(0.03 390.6 43.8)">9</text>
<text x="346.8" y="123.7" font-size="19.7" text-anchor="middle" transform="rotate(0.03 346.8 123.7)">8</text>
<text x="284.8" y="283" font-size="19.7" text-anchor="middle" transform="rotate(0.03 284.8 283)">7</text>
<text x="240.3" y="385.7" font-size="19.7" text-anchor="middle" transform="rotate(0.03 240.3 385.7)">17</text>
<text x="223.3" y="432" font-size="19.7" text-anchor="middle" transform="rotate(0.03 223.3 432)">13</text>
<text x="191" y="551" font-size="19.7" text-anchor="middle" transform="rotate(0.03 191 551)">20</text>
<text x="340.5" y="495.5" font-size="19.7" text-anchor="middle" transform="rotate(0.03 340.5 495.5)">10</text>
<text x="478.2" y="198" font-size="19.7" text-anchor="middle" transform="rotate(0.03 478.2 198)">2</text>
<text x="614.6" y="198.2" font-size="19.7" text-anchor="middle" transform="rotate(0.03 614.6 198.2)">1</text>
<text x="681.8" y="212.4" font-size="19.7" text-anchor="middle" transform="rotate(0.03 681.8 212.4)">18</text>
<text x="727" y="148.2" font-size="19.7" text-anchor="middle" transform="rotate(0.03 727 148.2)">14</text>
<text x="710.5" y="271.4" font-size="19.7" text-anchor="middle" transform="rotate(0.03 710.5 271.4)">11</text>
<text x="786.1" y="281.6" font-size="19.7" text-anchor="middle" transform="rotate(0.03 786.1 281.6)">12</text>
<text x="623.6" y="450.4" font-size="19.7" text-anchor="middle" transform="rotate(0.03 623.6 450.4)">4</text>
<text x="744.9" y="536.6" font-size="19.7" text-anchor="middle" transform="rotate(0.03 744.9 536.6)">3</text>
<text x="806.4" y="553.4" font-size="19.7" text-anchor="middle" transform="rotate(0.03 806.4 553.4)">5</text>
<text x="847.7" y="583.9" font-size="19.7" text-anchor="middle" transform="rotate(0.03 847.7 583.9)">15</text>
<text x="933.2" y="527.9" font-size="19.7" text-anchor="middle" transform="rotate(0.03 933.2 527.9)">19</text>
<text x="492" y="585" font-size="19.7" text-anchor="middle" transform="rotate(0.03 492 585)">6</text>
<text x="550.1" y="519.8" font-size="19.7" text-anchor="middle" transform="rotate(0.03 550.1 519.8)">16</text>
</svg>
</body></html>
